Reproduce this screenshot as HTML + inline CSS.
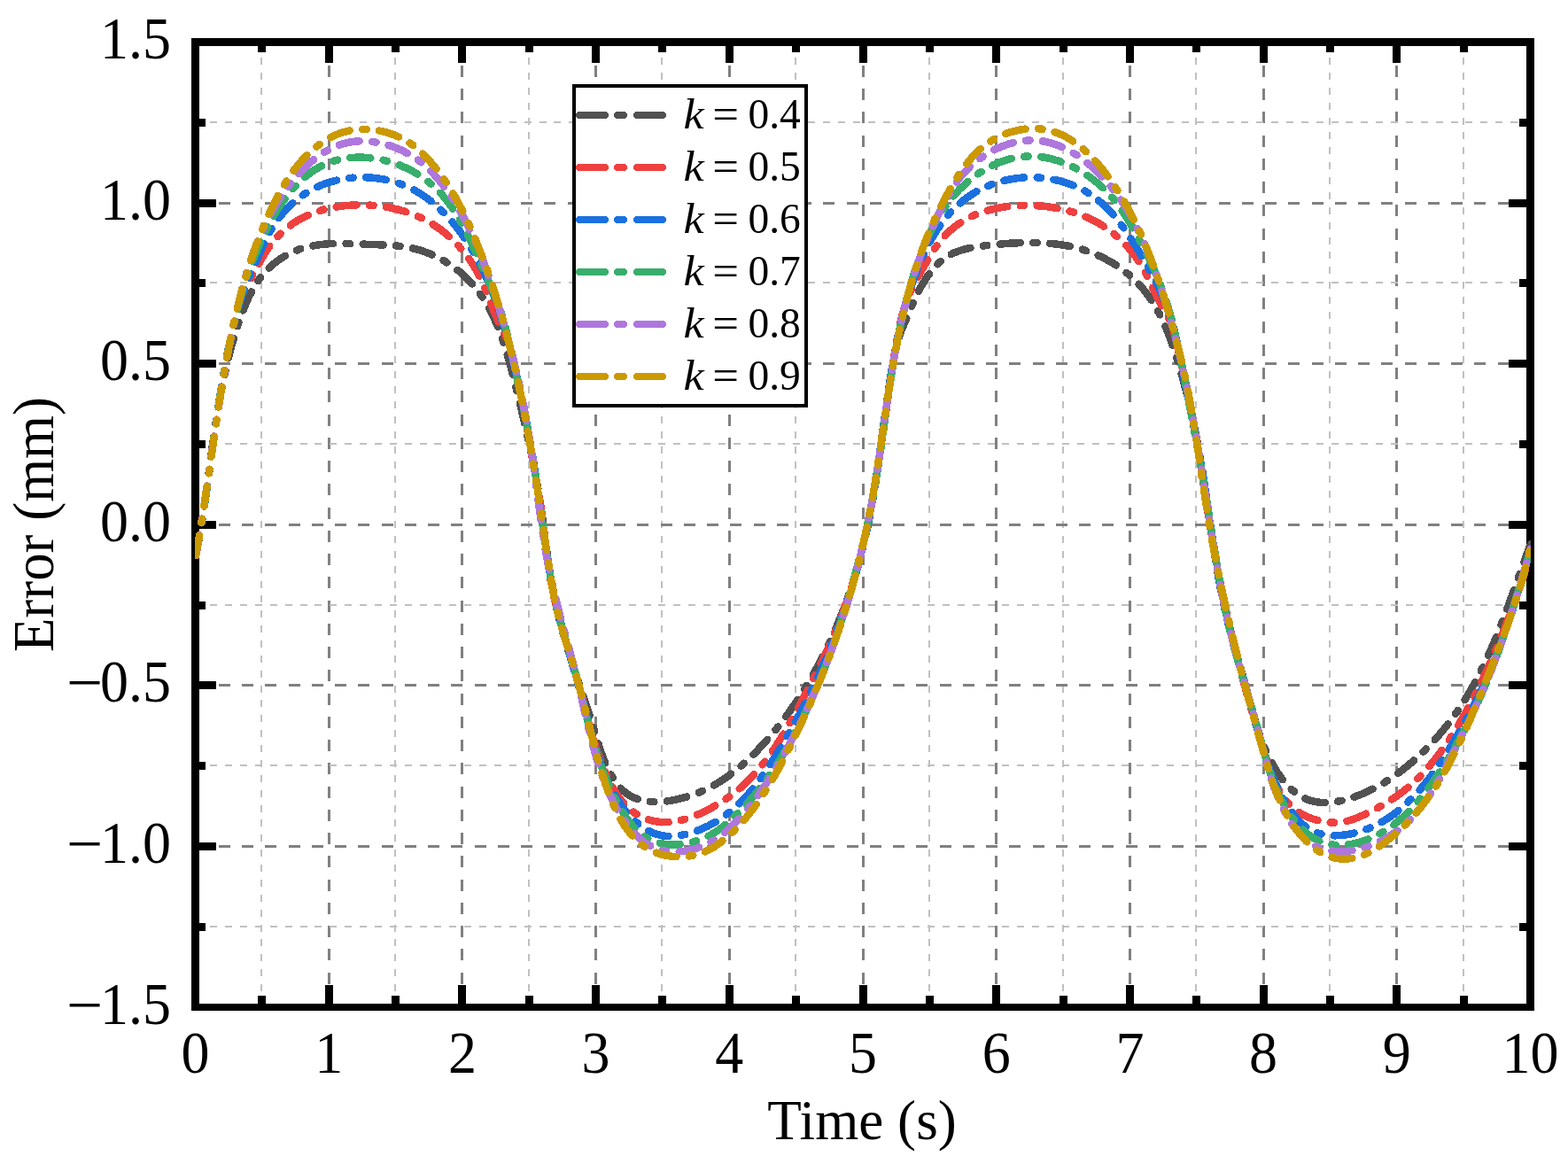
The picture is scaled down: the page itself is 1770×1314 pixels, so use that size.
<!DOCTYPE html>
<html><head><meta charset="utf-8"><title>Error vs Time</title>
<style>
html,body{margin:0;padding:0;background:#fff;}
svg{display:block;}
text{font-family:"Liberation Serif","Times New Roman",serif;fill:#000;}
#curves path{fill:none;shape-rendering:crispEdges;stroke-width:8.5;stroke-linecap:round;stroke-linejoin:round;stroke-dasharray:23 14.5 4.5 14.5;}
#legend path{fill:none;shape-rendering:crispEdges;stroke-width:8;stroke-linecap:round;stroke-dasharray:29 14 7 15;}
#legend text{font-size:47.5px;}
#labels text{font-size:64px;}
</style></head><body>
<svg width="1770" height="1314" viewBox="0 0 1770 1314">
<rect width="1770" height="1314" fill="#fff"/>
<g id="grid" shape-rendering="crispEdges">
<line x1="295.0" y1="48.2" x2="295.0" y2="1137" stroke="#c0c0c0" stroke-width="2" stroke-dasharray="8 8.87"/>
<line x1="446.0" y1="48.2" x2="446.0" y2="1137" stroke="#c0c0c0" stroke-width="2" stroke-dasharray="8 8.87"/>
<line x1="597.0" y1="48.2" x2="597.0" y2="1137" stroke="#c0c0c0" stroke-width="2" stroke-dasharray="8 8.87"/>
<line x1="747.0" y1="48.2" x2="747.0" y2="1137" stroke="#c0c0c0" stroke-width="2" stroke-dasharray="8 8.87"/>
<line x1="898.0" y1="48.2" x2="898.0" y2="1137" stroke="#c0c0c0" stroke-width="2" stroke-dasharray="8 8.87"/>
<line x1="1049.0" y1="48.2" x2="1049.0" y2="1137" stroke="#c0c0c0" stroke-width="2" stroke-dasharray="8 8.87"/>
<line x1="1200.0" y1="48.2" x2="1200.0" y2="1137" stroke="#c0c0c0" stroke-width="2" stroke-dasharray="8 8.87"/>
<line x1="1350.0" y1="48.2" x2="1350.0" y2="1137" stroke="#c0c0c0" stroke-width="2" stroke-dasharray="8 8.87"/>
<line x1="1501.0" y1="48.2" x2="1501.0" y2="1137" stroke="#c0c0c0" stroke-width="2" stroke-dasharray="8 8.87"/>
<line x1="1652.0" y1="48.2" x2="1652.0" y2="1137" stroke="#c0c0c0" stroke-width="2" stroke-dasharray="8 8.87"/>
<line x1="371.5" y1="47.5" x2="371.5" y2="1137" stroke="#808080" stroke-width="3" stroke-dasharray="13 13.25"/>
<line x1="521.5" y1="47.5" x2="521.5" y2="1137" stroke="#808080" stroke-width="3" stroke-dasharray="13 13.25"/>
<line x1="672.5" y1="47.5" x2="672.5" y2="1137" stroke="#808080" stroke-width="3" stroke-dasharray="13 13.25"/>
<line x1="823.5" y1="47.5" x2="823.5" y2="1137" stroke="#808080" stroke-width="3" stroke-dasharray="13 13.25"/>
<line x1="974.5" y1="47.5" x2="974.5" y2="1137" stroke="#808080" stroke-width="3" stroke-dasharray="13 13.25"/>
<line x1="1124.5" y1="47.5" x2="1124.5" y2="1137" stroke="#808080" stroke-width="3" stroke-dasharray="13 13.25"/>
<line x1="1275.5" y1="47.5" x2="1275.5" y2="1137" stroke="#808080" stroke-width="3" stroke-dasharray="13 13.25"/>
<line x1="1426.5" y1="47.5" x2="1426.5" y2="1137" stroke="#808080" stroke-width="3" stroke-dasharray="13 13.25"/>
<line x1="1576.5" y1="47.5" x2="1576.5" y2="1137" stroke="#808080" stroke-width="3" stroke-dasharray="13 13.25"/>
<line x1="220.5" y1="138.0" x2="1727.5" y2="138.0" stroke="#c0c0c0" stroke-width="2" stroke-dasharray="8 8.87"/>
<line x1="220.5" y1="319.0" x2="1727.5" y2="319.0" stroke="#c0c0c0" stroke-width="2" stroke-dasharray="8 8.87"/>
<line x1="220.5" y1="501.0" x2="1727.5" y2="501.0" stroke="#c0c0c0" stroke-width="2" stroke-dasharray="8 8.87"/>
<line x1="220.5" y1="683.0" x2="1727.5" y2="683.0" stroke="#c0c0c0" stroke-width="2" stroke-dasharray="8 8.87"/>
<line x1="220.5" y1="864.0" x2="1727.5" y2="864.0" stroke="#c0c0c0" stroke-width="2" stroke-dasharray="8 8.87"/>
<line x1="220.5" y1="1046.0" x2="1727.5" y2="1046.0" stroke="#c0c0c0" stroke-width="2" stroke-dasharray="8 8.87"/>
<line x1="220.5" y1="229.5" x2="1727.5" y2="229.5" stroke="#808080" stroke-width="3" stroke-dasharray="13 13.25"/>
<line x1="220.5" y1="410.5" x2="1727.5" y2="410.5" stroke="#808080" stroke-width="3" stroke-dasharray="13 13.25"/>
<line x1="220.5" y1="592.5" x2="1727.5" y2="592.5" stroke="#808080" stroke-width="3" stroke-dasharray="13 13.25"/>
<line x1="220.5" y1="773.5" x2="1727.5" y2="773.5" stroke="#808080" stroke-width="3" stroke-dasharray="13 13.25"/>
<line x1="220.5" y1="955.5" x2="1727.5" y2="955.5" stroke="#808080" stroke-width="3" stroke-dasharray="13 13.25"/>
</g>
<g id="frame" fill="#000">
<rect x="216" y="43" width="1516" height="9"/>
<rect x="216" y="1133" width="1516" height="8"/>
<rect x="216" y="43" width="9" height="1098"/>
<rect x="1723" y="43" width="9" height="1098"/>
<rect x="291.0" y="52" width="9" height="7"/>
<rect x="291.0" y="1124" width="9" height="9"/>
<rect x="367.0" y="52" width="9" height="19"/>
<rect x="367.0" y="1112" width="9" height="21"/>
<rect x="442.0" y="52" width="9" height="7"/>
<rect x="442.0" y="1124" width="9" height="9"/>
<rect x="517.0" y="52" width="9" height="19"/>
<rect x="517.0" y="1112" width="9" height="21"/>
<rect x="593.0" y="52" width="9" height="7"/>
<rect x="593.0" y="1124" width="9" height="9"/>
<rect x="668.0" y="52" width="9" height="19"/>
<rect x="668.0" y="1112" width="9" height="21"/>
<rect x="743.0" y="52" width="9" height="7"/>
<rect x="743.0" y="1124" width="9" height="9"/>
<rect x="819.0" y="52" width="9" height="19"/>
<rect x="819.0" y="1112" width="9" height="21"/>
<rect x="894.0" y="52" width="9" height="7"/>
<rect x="894.0" y="1124" width="9" height="9"/>
<rect x="970.0" y="52" width="9" height="19"/>
<rect x="970.0" y="1112" width="9" height="21"/>
<rect x="1045.0" y="52" width="9" height="7"/>
<rect x="1045.0" y="1124" width="9" height="9"/>
<rect x="1120.0" y="52" width="9" height="19"/>
<rect x="1120.0" y="1112" width="9" height="21"/>
<rect x="1196.0" y="52" width="9" height="7"/>
<rect x="1196.0" y="1124" width="9" height="9"/>
<rect x="1271.0" y="52" width="9" height="19"/>
<rect x="1271.0" y="1112" width="9" height="21"/>
<rect x="1346.0" y="52" width="9" height="7"/>
<rect x="1346.0" y="1124" width="9" height="9"/>
<rect x="1422.0" y="52" width="9" height="19"/>
<rect x="1422.0" y="1112" width="9" height="21"/>
<rect x="1497.0" y="52" width="9" height="7"/>
<rect x="1497.0" y="1124" width="9" height="9"/>
<rect x="1572.0" y="52" width="9" height="19"/>
<rect x="1572.0" y="1112" width="9" height="21"/>
<rect x="1648.0" y="52" width="9" height="7"/>
<rect x="1648.0" y="1124" width="9" height="9"/>
<rect x="225" y="134.0" width="7" height="9"/>
<rect x="1715" y="134.0" width="8" height="9"/>
<rect x="225" y="225.0" width="19" height="9"/>
<rect x="1703" y="225.0" width="20" height="9"/>
<rect x="225" y="315.0" width="7" height="9"/>
<rect x="1715" y="315.0" width="8" height="9"/>
<rect x="225" y="406.0" width="19" height="9"/>
<rect x="1703" y="406.0" width="20" height="9"/>
<rect x="225" y="497.0" width="7" height="9"/>
<rect x="1715" y="497.0" width="8" height="9"/>
<rect x="225" y="588.0" width="19" height="9"/>
<rect x="1703" y="588.0" width="20" height="9"/>
<rect x="225" y="679.0" width="7" height="9"/>
<rect x="1715" y="679.0" width="8" height="9"/>
<rect x="225" y="769.0" width="19" height="9"/>
<rect x="1703" y="769.0" width="20" height="9"/>
<rect x="225" y="860.0" width="7" height="9"/>
<rect x="1715" y="860.0" width="8" height="9"/>
<rect x="225" y="951.0" width="19" height="9"/>
<rect x="1703" y="951.0" width="20" height="9"/>
<rect x="225" y="1042.0" width="7" height="9"/>
<rect x="1715" y="1042.0" width="8" height="9"/>
</g>
<defs><clipPath id="pc"><rect x="220" y="0" width="1508" height="1314"/></clipPath></defs>
<g id="curves" clip-path="url(#pc)">
<path d="M221.0,627.2L221.6,624.3L222.2,621.3L222.8,618.4L223.3,615.4L223.9,612.5L224.4,609.5L224.9,606.6L225.4,603.6L226.0,600.6L226.5,597.7L226.9,594.7L227.4,591.8L227.9,588.8L228.4,585.8L228.8,582.9L229.3,579.9L229.7,576.9L230.2,574.0L230.6,571.0L231.0,568.0L231.5,565.0L231.9,562.1L232.3,559.1L232.7,556.1L233.1,553.2L233.5,550.2L233.9,547.2L234.3,544.2L234.7,541.3L235.1,538.3L235.5,535.3L235.9,532.3L236.3,529.4L236.7,526.4L237.1,523.4L237.5,520.4L237.9,517.5L238.3,514.5L238.7,511.5L239.1,508.5L239.5,505.6L239.9,502.6L240.4,499.6L240.8,496.6L241.2,493.7L241.6,490.7L242.0,487.7L242.5,484.8L242.9,481.8L243.4,478.8L243.8,475.8L244.3,472.9L244.8,469.9L245.2,467.0L245.7,464.0L246.2,461.0L246.7,458.1L247.2,455.1L247.7,452.2L248.2,449.2L248.8,446.2L249.3,443.3L249.9,440.3L250.5,437.4L251.0,434.5L251.6,431.5L252.2,428.6L252.8,425.6L253.5,422.7L254.1,419.8L254.8,416.8L255.4,413.9L256.1,411.0L256.8,408.1L257.5,405.1L258.3,402.2L259.0,399.3L259.8,396.4L260.5,393.5L261.3,390.6L262.1,387.7L263.0,384.9L263.8,382.0L264.7,379.1L265.5,376.2L266.4,373.4L267.4,370.5L268.3,367.6L269.2,364.8L270.2,362.0L271.2,359.1L272.2,356.3L273.2,353.5L274.3,350.7L275.4,347.9L276.5,345.1L277.7,342.3L278.9,339.6L280.1,336.9L281.4,334.1L282.8,331.5L284.2,328.8L285.6,326.2L287.1,323.6L288.7,321.0L290.3,318.5L292.0,316.0L293.8,313.6L295.6,311.2L297.6,308.9L299.6,306.7L301.6,304.5L303.8,302.4L306.0,300.3L308.2,298.4L310.6,296.5L313.0,294.7L315.4,292.9L317.9,291.3L320.5,289.7L323.1,288.2L325.7,286.8L328.4,285.5L331.1,284.2L333.9,283.0L336.7,281.9L339.5,280.9L342.4,280.0L345.3,279.2L348.2,278.5L351.1,277.8L354.0,277.3L357.0,276.8L360.0,276.3L363.0,276.0L365.9,275.7L368.9,275.4L371.9,275.2L374.9,275.1L377.9,275.0L380.9,274.9L383.9,274.9L386.9,274.9L389.9,275.0L392.9,275.0L395.9,275.1L398.9,275.2L401.9,275.3L404.9,275.4L407.9,275.5L410.9,275.7L413.9,275.8L416.9,275.9L419.9,276.0L422.9,276.1L425.9,276.2L428.9,276.3L431.9,276.4L434.9,276.6L437.9,276.7L440.9,276.9L443.9,277.2L446.9,277.4L449.9,277.8L452.9,278.1L455.8,278.5L458.8,279.0L461.8,279.5L464.7,280.1L467.6,280.8L470.5,281.5L473.4,282.3L476.3,283.2L479.1,284.2L482.0,285.2L484.8,286.3L487.5,287.5L490.3,288.7L493.0,290.0L495.6,291.4L498.3,292.8L500.9,294.3L503.5,295.8L506.0,297.4L508.5,299.1L511.0,300.8L513.4,302.5L515.8,304.4L518.2,306.2L520.5,308.2L522.7,310.1L524.9,312.2L527.1,314.3L529.2,316.4L531.2,318.6L533.3,320.8L535.2,323.1L537.1,325.4L539.0,327.8L540.8,330.2L542.5,332.6L544.2,335.1L545.9,337.6L547.5,340.1L549.0,342.7L550.5,345.3L552.0,347.9L553.4,350.6L554.8,353.2L556.1,355.9L557.4,358.6L558.7,361.4L559.9,364.1L561.1,366.9L562.2,369.6L563.3,372.4L564.4,375.2L565.4,378.0L566.5,380.9L567.4,383.7L568.4,386.5L569.4,389.4L570.3,392.3L571.2,395.1L572.0,398.0L572.9,400.9L573.7,403.8L574.5,406.6L575.3,409.5L576.1,412.4L576.9,415.3L577.7,418.2L578.4,421.1L579.2,424.0L579.9,427.0L580.6,429.9L581.4,432.8L582.1,435.7L582.8,438.6L583.5,441.5L584.2,444.4L584.9,447.4L585.6,450.3L586.4,453.2L587.1,456.1L587.8,459.0L588.5,461.9L589.2,464.9L589.9,467.8L590.6,470.7L591.2,473.6L591.9,476.5L592.6,479.5L593.3,482.4L594.0,485.3L594.6,488.2L595.3,491.2L596.0,494.1L596.6,497.0L597.2,500.0L597.9,502.9L598.5,505.8L599.1,508.8L599.8,511.7L600.4,514.6L601.0,517.6L601.6,520.5L602.2,523.5L602.8,526.4L603.3,529.4L603.9,532.3L604.4,535.3L605.0,538.2L605.5,541.2L606.1,544.1L606.6,547.1L607.1,550.0L607.6,553.0L608.1,556.0L608.5,558.9L609.0,561.9L609.5,564.9L609.9,567.8L610.3,570.8L610.8,573.8L611.2,576.7L611.6,579.7L612.0,582.7L612.4,585.7L612.8,588.6L613.2,591.6L613.6,594.6L614.0,597.6L614.3,600.5L614.7,603.5L615.1,606.5L615.5,609.5L615.9,612.4L616.3,615.4L616.7,618.4L617.1,621.4L617.5,624.4L617.9,627.3L618.3,630.3L618.7,633.3L619.1,636.2L619.6,639.2L620.0,642.2L620.5,645.1L620.9,648.1L621.4,651.1L621.9,654.0L622.4,657.0L622.9,660.0L623.5,662.9L624.0,665.9L624.6,668.8L625.2,671.7L625.8,674.7L626.4,677.6L627.0,680.6L627.7,683.5L628.4,686.4L629.0,689.3L629.8,692.3L630.5,695.2L631.2,698.1L632.0,701.0L632.7,703.9L633.5,706.8L634.3,709.7L635.1,712.6L635.9,715.5L636.7,718.3L637.6,721.2L638.4,724.1L639.3,727.0L640.2,729.9L641.0,732.7L641.9,735.6L642.8,738.5L643.7,741.3L644.6,744.2L645.5,747.0L646.4,749.9L647.4,752.8L648.3,755.6L649.2,758.5L650.2,761.3L651.1,764.2L652.0,767.0L653.0,769.9L653.9,772.7L654.9,775.6L655.8,778.4L656.8,781.3L657.7,784.1L658.7,787.0L659.6,789.8L660.6,792.7L661.5,795.5L662.5,798.4L663.4,801.2L664.3,804.1L665.3,806.9L666.2,809.8L667.1,812.6L668.0,815.5L668.9,818.3L669.8,821.2L670.7,824.1L671.6,826.9L672.5,829.8L673.4,832.7L674.2,835.6L675.1,838.4L676.0,841.3L676.9,844.2L677.8,847.0L678.8,849.9L679.8,852.7L680.8,855.5L681.9,858.3L683.1,861.1L684.3,863.8L685.5,866.6L686.8,869.3L688.2,871.9L689.6,874.6L691.2,877.1L692.8,879.7L694.5,882.2L696.2,884.6L698.1,886.9L700.1,889.2L702.2,891.3L704.4,893.4L706.7,895.3L709.2,897.0L711.7,898.5L714.4,899.9L717.2,901.1L720.0,902.2L722.8,903.0L725.8,903.7L728.7,904.3L731.7,904.7L734.7,905.0L737.7,905.2L740.7,905.2L743.7,905.1L746.7,905.0L749.7,904.7L752.6,904.4L755.6,904.0L758.6,903.5L761.5,902.9L764.5,902.3L767.4,901.6L770.3,900.9L773.2,900.1L776.1,899.2L778.9,898.3L781.8,897.3L784.6,896.3L787.4,895.2L790.2,894.1L792.9,892.9L795.6,891.6L798.4,890.3L801.0,889.0L803.7,887.6L806.3,886.2L808.9,884.7L811.5,883.1L814.0,881.5L816.6,879.9L819.0,878.2L821.5,876.5L823.9,874.7L826.3,872.9L828.7,871.1L831.1,869.2L833.4,867.3L835.7,865.4L838.0,863.4L840.2,861.4L842.4,859.4L844.6,857.4L846.8,855.3L849.0,853.2L851.1,851.1L853.2,849.0L855.3,846.8L857.3,844.6L859.4,842.4L861.4,840.2L863.4,838.0L865.4,835.7L867.4,833.5L869.4,831.2L871.3,828.9L873.2,826.6L875.1,824.3L877.0,822.0L878.9,819.6L880.8,817.3L882.6,814.9L884.4,812.5L886.2,810.1L888.0,807.7L889.8,805.3L891.5,802.8L893.3,800.4L895.0,797.9L896.7,795.5L898.4,793.0L900.1,790.5L901.7,788.0L903.4,785.5L905.0,783.0L906.6,780.4L908.2,777.9L909.8,775.3L911.3,772.7L912.9,770.2L914.4,767.6L915.9,765.0L917.4,762.4L918.8,759.8L920.3,757.1L921.7,754.5L923.2,751.9L924.6,749.2L926.0,746.6L927.4,743.9L928.7,741.2L930.1,738.5L931.4,735.8L932.7,733.1L934.0,730.4L935.3,727.7L936.6,725.0L937.8,722.3L939.1,719.5L940.3,716.8L941.5,714.1L942.7,711.3L943.9,708.5L945.0,705.8L946.2,703.0L947.3,700.2L948.4,697.4L949.5,694.6L950.6,691.8L951.7,689.0L952.8,686.2L953.8,683.4L954.8,680.6L955.8,677.8L956.9,675.0L957.8,672.1L958.8,669.3L959.8,666.4L960.7,663.6L961.7,660.7L962.6,657.9L963.5,655.0L964.4,652.2L965.3,649.3L966.1,646.4L967.0,643.5L967.8,640.6L968.6,637.8L969.5,634.9L970.2,632.0L971.0,629.1L971.8,626.2L972.6,623.3L973.3,620.4L974.0,617.5L974.8,614.5L975.5,611.6L976.2,608.7L976.9,605.8L977.5,602.9L978.2,599.9L978.8,597.0L979.5,594.1L980.1,591.1L980.7,588.2L981.3,585.2L981.9,582.3L982.4,579.4L983.0,576.4L983.6,573.5L984.1,570.5L984.6,567.5L985.1,564.6L985.7,561.6L986.2,558.7L986.6,555.7L987.1,552.7L987.6,549.8L988.1,546.8L988.5,543.9L989.0,540.9L989.4,537.9L989.9,534.9L990.3,532.0L990.8,529.0L991.2,526.0L991.6,523.1L992.0,520.1L992.4,517.1L992.8,514.1L993.3,511.2L993.7,508.2L994.1,505.2L994.5,502.2L994.9,499.3L995.3,496.3L995.7,493.3L996.0,490.3L996.4,487.4L996.8,484.4L997.2,481.4L997.6,478.4L998.0,475.5L998.4,472.5L998.8,469.5L999.2,466.5L999.6,463.6L1000.0,460.6L1000.5,457.6L1000.9,454.6L1001.3,451.7L1001.7,448.7L1002.1,445.7L1002.6,442.8L1003.0,439.8L1003.5,436.8L1003.9,433.9L1004.4,430.9L1004.8,427.9L1005.3,425.0L1005.8,422.0L1006.3,419.0L1006.8,416.1L1007.4,413.1L1007.9,410.2L1008.5,407.2L1009.1,404.3L1009.7,401.4L1010.3,398.4L1011.0,395.5L1011.7,392.6L1012.4,389.6L1013.1,386.7L1013.9,383.9L1014.8,381.0L1015.7,378.1L1016.7,375.3L1017.7,372.5L1018.9,369.7L1020.0,366.9L1021.3,364.2L1022.5,361.4L1023.6,358.7L1024.8,355.9L1026.0,353.1L1027.1,350.4L1028.3,347.6L1029.5,344.8L1030.7,342.1L1031.9,339.3L1033.1,336.6L1034.4,333.9L1035.7,331.2L1037.1,328.5L1038.5,325.9L1039.9,323.2L1041.4,320.6L1043.0,318.1L1044.6,315.5L1046.2,313.0L1048.0,310.6L1049.8,308.2L1051.6,305.8L1053.6,303.5L1055.6,301.3L1057.7,299.1L1059.8,297.0L1062.0,295.0L1064.4,293.1L1066.8,291.3L1069.3,289.7L1071.8,288.1L1074.5,286.7L1077.2,285.4L1080.0,284.3L1082.8,283.2L1085.6,282.3L1088.5,281.4L1091.4,280.7L1094.3,280.0L1097.3,279.4L1100.2,278.9L1103.2,278.4L1106.2,278.0L1109.1,277.6L1112.1,277.2L1115.1,276.9L1118.1,276.6L1121.1,276.3L1124.1,276.0L1127.1,275.7L1130.1,275.5L1133.0,275.2L1136.0,275.0L1139.0,274.8L1142.0,274.6L1145.0,274.4L1148.0,274.3L1151.0,274.1L1154.0,274.0L1157.0,274.0L1160.0,273.9L1163.0,273.9L1166.0,273.9L1169.0,273.9L1172.0,274.0L1175.0,274.1L1178.0,274.3L1181.0,274.5L1184.0,274.7L1187.0,275.0L1190.0,275.3L1193.0,275.6L1195.9,276.0L1198.9,276.5L1201.9,276.9L1204.8,277.5L1207.8,278.1L1210.7,278.7L1213.6,279.4L1216.5,280.2L1219.4,281.0L1222.3,281.8L1225.2,282.8L1228.0,283.7L1230.8,284.8L1233.6,285.8L1236.4,287.0L1239.1,288.2L1241.9,289.4L1244.6,290.7L1247.3,292.1L1249.9,293.5L1252.5,294.9L1255.1,296.4L1257.7,298.0L1260.2,299.6L1262.7,301.3L1265.2,303.0L1267.6,304.8L1270.0,306.6L1272.3,308.5L1274.7,310.4L1276.9,312.4L1279.1,314.4L1281.3,316.4L1283.4,318.6L1285.5,320.7L1287.5,323.0L1289.5,325.2L1291.4,327.5L1293.3,329.9L1295.1,332.3L1296.8,334.7L1298.6,337.2L1300.2,339.7L1301.8,342.2L1303.4,344.8L1304.9,347.4L1306.4,350.0L1307.8,352.6L1309.2,355.3L1310.6,357.9L1311.9,360.6L1313.2,363.4L1314.4,366.1L1315.6,368.8L1316.8,371.6L1317.9,374.4L1319.0,377.2L1320.1,380.0L1321.2,382.8L1322.2,385.6L1323.2,388.4L1324.2,391.3L1325.2,394.1L1326.1,397.0L1327.0,399.8L1327.9,402.7L1328.8,405.5L1329.7,408.4L1330.6,411.3L1331.4,414.2L1332.3,417.0L1333.1,419.9L1333.9,422.8L1334.7,425.7L1335.5,428.6L1336.3,431.5L1337.1,434.4L1337.8,437.3L1338.6,440.2L1339.3,443.1L1340.1,446.0L1340.8,448.9L1341.5,451.9L1342.2,454.8L1342.9,457.7L1343.6,460.6L1344.2,463.6L1344.9,466.5L1345.5,469.4L1346.2,472.3L1346.8,475.3L1347.4,478.2L1348.0,481.2L1348.6,484.1L1349.2,487.0L1349.8,490.0L1350.4,492.9L1351.0,495.9L1351.5,498.8L1352.1,501.8L1352.6,504.7L1353.2,507.7L1353.7,510.6L1354.2,513.6L1354.7,516.5L1355.2,519.5L1355.7,522.5L1356.2,525.4L1356.7,528.4L1357.2,531.4L1357.7,534.3L1358.1,537.3L1358.6,540.3L1359.0,543.2L1359.5,546.2L1359.9,549.2L1360.4,552.1L1360.8,555.1L1361.2,558.1L1361.7,561.0L1362.1,564.0L1362.5,567.0L1363.0,569.9L1363.4,572.9L1363.8,575.9L1364.2,578.9L1364.7,581.8L1365.1,584.8L1365.5,587.8L1365.9,590.7L1366.3,593.7L1366.8,596.7L1367.2,599.7L1367.6,602.6L1368.1,605.6L1368.5,608.6L1368.9,611.5L1369.4,614.5L1369.8,617.5L1370.3,620.4L1370.7,623.4L1371.2,626.4L1371.7,629.3L1372.1,632.3L1372.6,635.3L1373.1,638.2L1373.6,641.2L1374.1,644.2L1374.6,647.1L1375.1,650.1L1375.7,653.0L1376.2,656.0L1376.8,658.9L1377.3,661.9L1377.9,664.8L1378.5,667.8L1379.0,670.7L1379.6,673.7L1380.3,676.6L1380.9,679.5L1381.5,682.5L1382.2,685.4L1382.8,688.3L1383.5,691.3L1384.2,694.2L1384.9,697.1L1385.6,700.0L1386.3,702.9L1387.1,705.8L1387.8,708.7L1388.6,711.6L1389.3,714.5L1390.1,717.4L1390.9,720.3L1391.7,723.2L1392.5,726.1L1393.3,729.0L1394.1,731.9L1394.9,734.8L1395.7,737.7L1396.5,740.6L1397.3,743.5L1398.1,746.4L1398.9,749.3L1399.8,752.1L1400.6,755.0L1401.4,757.9L1402.2,760.8L1403.0,763.7L1403.8,766.6L1404.7,769.5L1405.5,772.4L1406.3,775.3L1407.1,778.2L1407.8,781.1L1408.6,784.0L1409.4,786.9L1410.2,789.7L1411.0,792.6L1411.8,795.5L1412.6,798.4L1413.3,801.3L1414.2,804.2L1415.0,807.1L1415.8,810.0L1416.7,812.9L1417.5,815.8L1418.4,818.6L1419.3,821.5L1420.2,824.3L1421.2,827.2L1422.2,830.0L1423.2,832.9L1424.2,835.7L1425.3,838.5L1426.4,841.3L1427.5,844.1L1428.7,846.8L1429.9,849.6L1431.1,852.3L1432.4,855.0L1433.8,857.7L1435.1,860.3L1436.6,863.0L1438.1,865.6L1439.6,868.2L1441.2,870.7L1442.8,873.2L1444.6,875.7L1446.3,878.1L1448.1,880.5L1450.0,882.8L1452.0,885.1L1454.0,887.3L1456.2,889.4L1458.3,891.5L1460.6,893.4L1463.0,895.3L1465.4,897.0L1467.9,898.7L1470.6,900.1L1473.3,901.5L1476.0,902.6L1478.9,903.6L1481.8,904.4L1484.7,905.0L1487.7,905.5L1490.6,905.8L1493.6,905.9L1496.6,906.0L1499.6,905.9L1502.6,905.6L1505.6,905.3L1508.6,904.9L1511.5,904.4L1514.5,903.8L1517.4,903.1L1520.3,902.3L1523.2,901.5L1526.1,900.6L1528.9,899.6L1531.7,898.6L1534.5,897.5L1537.3,896.4L1540.1,895.2L1542.8,894.0L1545.5,892.7L1548.2,891.4L1550.9,890.0L1553.6,888.6L1556.2,887.2L1558.8,885.7L1561.4,884.2L1563.9,882.6L1566.5,881.0L1569.0,879.3L1571.5,877.7L1573.9,875.9L1576.4,874.2L1578.8,872.4L1581.2,870.6L1583.6,868.8L1585.9,866.9L1588.3,865.0L1590.6,863.1L1592.9,861.2L1595.1,859.2L1597.4,857.2L1599.6,855.2L1601.8,853.2L1604.0,851.1L1606.2,849.0L1608.3,846.9L1610.4,844.8L1612.5,842.7L1614.6,840.5L1616.6,838.3L1618.7,836.1L1620.7,833.9L1622.7,831.6L1624.7,829.4L1626.6,827.1L1628.5,824.8L1630.4,822.5L1632.3,820.1L1634.2,817.8L1636.0,815.4L1637.8,813.0L1639.6,810.6L1641.4,808.2L1643.1,805.7L1644.9,803.3L1646.6,800.8L1648.2,798.3L1649.9,795.8L1651.5,793.3L1653.1,790.7L1654.7,788.2L1656.3,785.6L1657.8,783.0L1659.3,780.5L1660.8,777.9L1662.3,775.2L1663.8,772.6L1665.2,770.0L1666.6,767.3L1668.0,764.7L1669.4,762.0L1670.8,759.3L1672.1,756.7L1673.4,754.0L1674.8,751.3L1676.1,748.6L1677.3,745.8L1678.6,743.1L1679.8,740.4L1681.1,737.7L1682.3,734.9L1683.5,732.2L1684.7,729.4L1685.9,726.6L1687.0,723.9L1688.2,721.1L1689.3,718.3L1690.4,715.6L1691.6,712.8L1692.7,710.0L1693.8,707.2L1694.9,704.4L1696.0,701.6L1697.0,698.8L1698.1,696.0L1699.2,693.2L1700.2,690.4L1701.2,687.5L1702.3,684.7L1703.3,681.9L1704.4,679.1L1705.4,676.3L1706.4,673.4L1707.4,670.6L1708.4,667.8L1709.5,665.0L1710.5,662.1L1711.5,659.3L1712.5,656.5L1713.5,653.7L1714.5,650.8L1715.5,648.0L1716.5,645.2L1717.5,642.4L1718.5,639.5L1719.6,636.7L1720.6,633.9L1721.6,631.1L1722.6,628.2L1723.7,625.4L1724.7,622.6L1725.8,619.8L1726.8,617.0L1727.9,614.2" stroke="#515151"/>
<path d="M220.9,626.9L221.5,624.0L222.1,621.0L222.7,618.1L223.2,615.1L223.8,612.2L224.3,609.2L224.9,606.3L225.4,603.3L225.9,600.3L226.4,597.4L226.9,594.4L227.4,591.5L227.9,588.5L228.4,585.6L228.9,582.6L229.3,579.6L229.8,576.7L230.3,573.7L230.7,570.7L231.2,567.8L231.6,564.8L232.1,561.8L232.5,558.9L232.9,555.9L233.4,552.9L233.8,549.9L234.2,547.0L234.6,544.0L235.0,541.0L235.5,538.1L235.9,535.1L236.3,532.1L236.7,529.1L237.1,526.2L237.5,523.2L237.9,520.2L238.3,517.3L238.7,514.3L239.1,511.3L239.5,508.3L240.0,505.4L240.4,502.4L240.8,499.4L241.2,496.4L241.6,493.5L242.0,490.5L242.4,487.5L242.8,484.5L243.2,481.6L243.7,478.6L244.1,475.6L244.5,472.7L244.9,469.7L245.4,466.7L245.8,463.8L246.3,460.8L246.7,457.8L247.1,454.9L247.6,451.9L248.1,448.9L248.5,446.0L249.0,443.0L249.5,440.0L249.9,437.1L250.4,434.1L250.9,431.1L251.4,428.2L251.9,425.2L252.5,422.3L253.0,419.3L253.5,416.4L254.0,413.4L254.6,410.5L255.2,407.5L255.7,404.6L256.3,401.6L256.9,398.7L257.5,395.7L258.1,392.8L258.7,389.9L259.3,386.9L259.9,384.0L260.6,381.1L261.2,378.1L261.9,375.2L262.6,372.3L263.3,369.4L264.0,366.4L264.7,363.5L265.4,360.6L266.2,357.7L266.9,354.8L267.7,351.9L268.5,349.0L269.3,346.1L270.1,343.2L271.0,340.4L271.9,337.5L272.8,334.7L273.9,331.8L275.0,329.1L276.3,326.3L277.6,323.7L279.1,321.0L280.5,318.4L282.1,315.8L283.6,313.2L285.1,310.6L286.5,308.0L288.0,305.4L289.4,302.8L290.9,300.1L292.3,297.5L293.8,294.9L295.3,292.3L296.8,289.7L298.3,287.1L299.9,284.6L301.5,282.0L303.2,279.5L304.9,277.1L306.7,274.7L308.6,272.3L310.6,270.0L312.6,267.8L314.6,265.6L316.8,263.5L319.0,261.5L321.2,259.5L323.5,257.6L325.9,255.7L328.3,254.0L330.8,252.2L333.3,250.6L335.8,249.0L338.4,247.5L341.1,246.1L343.8,244.8L346.5,243.5L349.2,242.3L352.0,241.1L354.8,240.1L357.6,239.1L360.5,238.1L363.3,237.3L366.2,236.4L369.1,235.7L372.1,235.0L375.0,234.4L378.0,233.8L380.9,233.3L383.9,232.9L386.9,232.5L389.8,232.2L392.8,231.9L395.8,231.7L398.8,231.5L401.8,231.4L404.8,231.3L407.8,231.3L410.8,231.4L413.8,231.4L416.8,231.6L419.8,231.8L422.8,232.0L425.8,232.3L428.8,232.7L431.7,233.1L434.7,233.5L437.7,234.0L440.6,234.6L443.5,235.2L446.5,235.9L449.4,236.6L452.3,237.4L455.2,238.2L458.0,239.1L460.9,240.1L463.7,241.1L466.5,242.2L469.3,243.3L472.0,244.5L474.8,245.7L477.5,247.0L480.1,248.4L482.8,249.8L485.4,251.3L488.0,252.8L490.5,254.4L493.0,256.1L495.5,257.8L497.9,259.6L500.3,261.4L502.6,263.3L504.9,265.2L507.2,267.2L509.4,269.2L511.6,271.2L513.7,273.4L515.8,275.5L517.9,277.7L519.8,279.9L521.8,282.2L523.7,284.5L525.6,286.9L527.4,289.3L529.1,291.7L530.9,294.2L532.5,296.7L534.2,299.2L535.7,301.7L537.3,304.3L538.7,306.9L540.2,309.6L541.5,312.3L542.9,314.9L544.1,317.7L545.4,320.4L546.5,323.2L547.7,325.9L548.8,328.7L549.9,331.5L551.0,334.3L552.1,337.1L553.1,339.9L554.2,342.7L555.3,345.5L556.4,348.3L557.5,351.1L558.7,353.9L559.9,356.6L561.1,359.3L562.4,362.0L563.8,364.7L565.1,367.4L566.5,370.1L567.8,372.8L569.1,375.5L570.3,378.2L571.4,381.0L572.5,383.8L573.5,386.7L574.4,389.5L575.3,392.4L576.2,395.2L577.0,398.1L577.9,401.0L578.7,403.9L579.4,406.8L580.2,409.7L581.0,412.6L581.7,415.5L582.4,418.4L583.1,421.4L583.8,424.3L584.4,427.2L585.1,430.1L585.7,433.1L586.3,436.0L586.9,438.9L587.5,441.9L588.1,444.8L588.7,447.8L589.2,450.7L589.8,453.7L590.3,456.6L590.9,459.6L591.4,462.5L591.9,465.5L592.4,468.4L593.0,471.4L593.5,474.4L594.0,477.3L594.5,480.3L595.0,483.2L595.5,486.2L596.0,489.1L596.5,492.1L597.0,495.1L597.5,498.0L598.0,501.0L598.6,503.9L599.1,506.9L599.6,509.8L600.1,512.8L600.7,515.7L601.2,518.7L601.7,521.7L602.3,524.6L602.8,527.6L603.3,530.5L603.9,533.5L604.4,536.4L604.9,539.4L605.5,542.3L606.0,545.3L606.5,548.2L607.0,551.2L607.5,554.2L608.0,557.1L608.5,560.1L609.0,563.0L609.5,566.0L609.9,569.0L610.4,571.9L610.9,574.9L611.3,577.9L611.7,580.8L612.2,583.8L612.6,586.8L613.0,589.7L613.3,592.7L613.7,595.7L614.1,598.7L614.4,601.7L614.8,604.6L615.1,607.6L615.5,610.6L615.8,613.6L616.1,616.6L616.5,619.5L616.8,622.5L617.2,625.5L617.5,628.5L617.9,631.5L618.3,634.4L618.7,637.4L619.1,640.4L619.6,643.4L620.0,646.3L620.5,649.3L621.0,652.2L621.6,655.2L622.1,658.1L622.7,661.1L623.3,664.0L623.9,667.0L624.5,669.9L625.2,672.8L625.9,675.7L626.6,678.7L627.3,681.6L628.0,684.5L628.7,687.4L629.5,690.3L630.2,693.2L631.0,696.1L631.8,699.0L632.6,701.9L633.4,704.8L634.2,707.7L635.0,710.6L635.9,713.5L636.7,716.3L637.5,719.2L638.4,722.1L639.2,725.0L640.1,727.9L640.9,730.7L641.8,733.6L642.7,736.5L643.5,739.4L644.4,742.2L645.2,745.1L646.1,748.0L646.9,750.9L647.8,753.7L648.6,756.6L649.5,759.5L650.3,762.4L651.1,765.3L651.9,768.2L652.7,771.1L653.5,773.9L654.3,776.8L655.1,779.7L655.9,782.6L656.7,785.5L657.4,788.4L658.2,791.3L658.9,794.2L659.7,797.2L660.4,800.1L661.2,803.0L661.9,805.9L662.7,808.8L663.5,811.7L664.2,814.6L665.0,817.5L665.8,820.4L666.6,823.3L667.4,826.1L668.3,829.0L669.1,831.9L670.0,834.8L670.8,837.7L671.7,840.5L672.6,843.4L673.6,846.2L674.5,849.1L675.5,851.9L676.5,854.7L677.5,857.6L678.6,860.4L679.7,863.2L680.8,866.0L681.9,868.7L683.1,871.5L684.3,874.2L685.5,877.0L686.8,879.7L688.1,882.4L689.5,885.1L690.9,887.7L692.4,890.3L693.9,892.9L695.5,895.5L697.1,898.0L698.9,900.4L700.7,902.8L702.6,905.1L704.5,907.4L706.6,909.6L708.8,911.7L711.0,913.7L713.3,915.5L715.8,917.3L718.3,918.9L720.9,920.4L723.6,921.8L726.3,923.1L729.1,924.2L731.9,925.2L734.8,926.0L737.7,926.7L740.6,927.3L743.6,927.7L746.6,928.0L749.6,928.2L752.6,928.2L755.6,928.1L758.6,927.8L761.6,927.4L764.5,926.9L767.5,926.3L770.4,925.6L773.3,924.8L776.1,924.0L779.0,923.0L781.8,922.0L784.6,920.9L787.4,919.7L790.1,918.5L792.8,917.3L795.5,916.0L798.2,914.6L800.9,913.2L803.5,911.8L806.1,910.3L808.7,908.8L811.3,907.3L813.8,905.7L816.4,904.0L818.9,902.4L821.3,900.7L823.8,898.9L826.2,897.1L828.6,895.3L830.9,893.4L833.2,891.5L835.5,889.6L837.8,887.6L840.0,885.6L842.2,883.5L844.3,881.4L846.4,879.3L848.5,877.2L850.6,875.0L852.6,872.8L854.6,870.5L856.5,868.2L858.5,865.9L860.4,863.6L862.2,861.2L864.1,858.9L865.9,856.5L867.6,854.1L869.4,851.6L871.1,849.2L872.8,846.7L874.5,844.2L876.2,841.7L877.8,839.2L879.4,836.7L881.0,834.1L882.6,831.6L884.1,829.0L885.7,826.4L887.2,823.8L888.7,821.2L890.2,818.6L891.7,816.0L893.1,813.4L894.6,810.8L896.1,808.2L897.5,805.5L898.9,802.9L900.4,800.3L901.8,797.6L903.2,795.0L904.6,792.3L906.0,789.7L907.4,787.0L908.8,784.4L910.2,781.7L911.6,779.0L913.0,776.4L914.4,773.7L915.7,771.0L917.1,768.4L918.5,765.7L919.8,763.0L921.1,760.3L922.5,757.6L923.8,754.9L925.1,752.2L926.4,749.5L927.7,746.8L929.0,744.1L930.3,741.4L931.5,738.7L932.8,736.0L934.1,733.2L935.3,730.5L936.5,727.8L937.7,725.0L938.9,722.3L940.1,719.5L941.3,716.8L942.5,714.0L943.6,711.2L944.8,708.4L945.9,705.7L947.0,702.9L948.1,700.1L949.2,697.3L950.3,694.5L951.4,691.7L952.4,688.9L953.4,686.1L954.4,683.2L955.4,680.4L956.4,677.6L957.4,674.7L958.4,671.9L959.3,669.0L960.2,666.2L961.1,663.3L962.0,660.5L962.9,657.6L963.8,654.7L964.6,651.8L965.5,649.0L966.3,646.1L967.1,643.2L967.9,640.3L968.7,637.4L969.5,634.5L970.2,631.6L971.0,628.7L971.7,625.8L972.4,622.9L973.2,619.9L973.9,617.0L974.5,614.1L975.2,611.2L975.9,608.3L976.6,605.3L977.2,602.4L977.8,599.5L978.5,596.5L979.1,593.6L979.7,590.7L980.3,587.7L980.9,584.8L981.5,581.8L982.1,578.9L982.6,575.9L983.2,573.0L983.7,570.0L984.3,567.1L984.8,564.1L985.3,561.2L985.9,558.2L986.4,555.3L986.9,552.3L987.4,549.4L987.9,546.4L988.4,543.4L988.9,540.5L989.3,537.5L989.8,534.6L990.3,531.6L990.7,528.6L991.2,525.7L991.7,522.7L992.1,519.7L992.6,516.8L993.0,513.8L993.4,510.8L993.9,507.9L994.3,504.9L994.8,501.9L995.2,498.9L995.6,496.0L996.0,493.0L996.5,490.0L996.9,487.1L997.3,484.1L997.7,481.1L998.2,478.1L998.6,475.2L999.0,472.2L999.4,469.2L999.8,466.3L1000.3,463.3L1000.7,460.3L1001.1,457.4L1001.5,454.4L1001.9,451.4L1002.4,448.4L1002.8,445.5L1003.2,442.5L1003.7,439.5L1004.1,436.6L1004.5,433.6L1005.0,430.6L1005.4,427.7L1005.8,424.7L1006.3,421.7L1006.7,418.7L1007.2,415.8L1007.7,412.8L1008.1,409.9L1008.6,406.9L1009.1,403.9L1009.5,401.0L1010.0,398.0L1010.5,395.0L1011.0,392.1L1011.5,389.1L1012.0,386.2L1012.6,383.2L1013.1,380.3L1013.7,377.3L1014.2,374.4L1014.8,371.4L1015.5,368.5L1016.1,365.6L1016.8,362.6L1017.5,359.7L1018.3,356.8L1019.0,353.9L1019.9,351.0L1020.7,348.2L1021.6,345.3L1022.5,342.4L1023.5,339.6L1024.6,336.8L1025.6,334.0L1026.8,331.2L1028.0,328.5L1029.2,325.7L1030.5,323.0L1031.8,320.3L1033.2,317.7L1034.6,315.0L1036.1,312.4L1037.6,309.8L1039.1,307.2L1040.6,304.6L1042.1,302.0L1043.7,299.4L1045.2,296.9L1046.7,294.3L1048.2,291.7L1049.8,289.1L1051.3,286.6L1052.9,284.0L1054.6,281.5L1056.3,279.0L1058.0,276.6L1059.8,274.2L1061.7,271.8L1063.6,269.5L1065.6,267.3L1067.6,265.1L1069.8,263.0L1071.9,260.9L1074.2,258.9L1076.5,257.0L1078.9,255.1L1081.3,253.4L1083.8,251.7L1086.3,250.1L1088.9,248.5L1091.5,247.1L1094.1,245.7L1096.8,244.3L1099.6,243.1L1102.3,241.9L1105.1,240.8L1107.9,239.8L1110.8,238.8L1113.7,238.0L1116.5,237.1L1119.4,236.4L1122.4,235.7L1125.3,235.1L1128.2,234.5L1131.2,234.0L1134.2,233.5L1137.1,233.1L1140.1,232.8L1143.1,232.5L1146.1,232.3L1149.1,232.1L1152.1,232.0L1155.1,231.9L1158.1,231.9L1161.1,231.9L1164.1,232.0L1167.1,232.1L1170.1,232.2L1173.1,232.4L1176.1,232.7L1179.1,233.0L1182.1,233.3L1185.0,233.7L1188.0,234.2L1191.0,234.6L1193.9,235.2L1196.9,235.8L1199.8,236.4L1202.7,237.1L1205.6,237.9L1208.5,238.7L1211.4,239.5L1214.2,240.5L1217.1,241.4L1219.9,242.5L1222.7,243.5L1225.5,244.7L1228.2,245.9L1230.9,247.2L1233.6,248.5L1236.3,249.9L1238.9,251.3L1241.5,252.8L1244.1,254.4L1246.6,256.0L1249.1,257.7L1251.5,259.4L1253.9,261.2L1256.3,263.0L1258.6,264.9L1260.9,266.9L1263.1,268.9L1265.3,270.9L1267.5,273.0L1269.6,275.2L1271.6,277.4L1273.7,279.6L1275.6,281.9L1277.5,284.2L1279.4,286.5L1281.2,288.9L1283.0,291.4L1284.7,293.8L1286.3,296.3L1287.9,298.9L1289.5,301.4L1291.0,304.0L1292.4,306.7L1293.8,309.3L1295.2,312.0L1296.5,314.7L1297.8,317.4L1299.0,320.1L1300.3,322.9L1301.5,325.6L1302.8,328.3L1304.1,331.0L1305.4,333.7L1306.7,336.4L1308.1,339.1L1309.5,341.7L1311.0,344.3L1312.6,346.9L1314.1,349.5L1315.7,352.0L1317.2,354.6L1318.6,357.3L1320.0,359.9L1321.2,362.7L1322.3,365.5L1323.3,368.3L1324.2,371.2L1325.0,374.1L1325.7,377.0L1326.4,379.9L1327.1,382.8L1327.8,385.7L1328.5,388.6L1329.2,391.6L1329.9,394.5L1330.6,397.4L1331.3,400.3L1332.0,403.2L1332.7,406.2L1333.3,409.1L1334.0,412.0L1334.7,414.9L1335.3,417.9L1336.0,420.8L1336.6,423.7L1337.3,426.6L1337.9,429.6L1338.6,432.5L1339.2,435.4L1339.8,438.4L1340.4,441.3L1341.0,444.3L1341.6,447.2L1342.2,450.1L1342.8,453.1L1343.4,456.0L1344.0,459.0L1344.5,461.9L1345.1,464.9L1345.6,467.8L1346.2,470.8L1346.7,473.7L1347.2,476.7L1347.7,479.6L1348.3,482.6L1348.8,485.6L1349.3,488.5L1349.8,491.5L1350.3,494.4L1350.8,497.4L1351.3,500.3L1351.8,503.3L1352.3,506.3L1352.7,509.2L1353.2,512.2L1353.7,515.2L1354.2,518.1L1354.6,521.1L1355.1,524.0L1355.6,527.0L1356.0,530.0L1356.5,532.9L1357.0,535.9L1357.4,538.9L1357.9,541.8L1358.3,544.8L1358.8,547.8L1359.3,550.7L1359.7,553.7L1360.2,556.7L1360.6,559.6L1361.1,562.6L1361.6,565.6L1362.0,568.5L1362.5,571.5L1363.0,574.5L1363.4,577.4L1363.9,580.4L1364.4,583.3L1364.8,586.3L1365.3,589.3L1365.8,592.2L1366.3,595.2L1366.8,598.2L1367.3,601.1L1367.8,604.1L1368.3,607.0L1368.8,610.0L1369.3,612.9L1369.8,615.9L1370.3,618.9L1370.9,621.8L1371.4,624.8L1371.9,627.7L1372.4,630.7L1373.0,633.6L1373.5,636.6L1374.1,639.5L1374.6,642.5L1375.2,645.4L1375.7,648.4L1376.3,651.3L1376.9,654.3L1377.5,657.2L1378.0,660.2L1378.6,663.1L1379.2,666.0L1379.8,669.0L1380.4,671.9L1381.0,674.9L1381.6,677.8L1382.2,680.7L1382.8,683.7L1383.5,686.6L1384.1,689.5L1384.7,692.5L1385.4,695.4L1386.0,698.3L1386.7,701.3L1387.3,704.2L1388.0,707.1L1388.7,710.1L1389.3,713.0L1390.0,715.9L1390.7,718.8L1391.4,721.7L1392.1,724.7L1392.8,727.6L1393.5,730.5L1394.3,733.4L1395.0,736.3L1395.7,739.2L1396.4,742.1L1397.2,745.0L1397.9,747.9L1398.7,750.8L1399.5,753.8L1400.2,756.7L1401.0,759.6L1401.8,762.5L1402.6,765.3L1403.4,768.2L1404.2,771.1L1405.0,774.0L1405.8,776.9L1406.6,779.8L1407.4,782.7L1408.2,785.6L1409.0,788.5L1409.9,791.4L1410.7,794.2L1411.5,797.1L1412.4,800.0L1413.2,802.9L1414.1,805.8L1414.9,808.6L1415.8,811.5L1416.6,814.4L1417.5,817.3L1418.4,820.1L1419.2,823.0L1420.1,825.9L1421.0,828.8L1421.8,831.6L1422.7,834.5L1423.6,837.4L1424.5,840.2L1425.4,843.1L1426.2,846.0L1427.1,848.8L1428.0,851.7L1428.9,854.6L1429.8,857.4L1430.7,860.3L1431.7,863.1L1432.6,866.0L1433.6,868.8L1434.7,871.6L1435.7,874.4L1436.8,877.2L1438.0,880.0L1439.2,882.7L1440.5,885.5L1441.8,888.1L1443.2,890.8L1444.7,893.4L1446.2,896.0L1447.9,898.5L1449.6,900.9L1451.4,903.3L1453.4,905.6L1455.4,907.8L1457.5,910.0L1459.7,912.0L1462.0,913.9L1464.4,915.7L1466.9,917.4L1469.5,918.9L1472.1,920.4L1474.8,921.7L1477.6,922.9L1480.4,924.0L1483.2,924.9L1486.1,925.8L1489.0,926.5L1491.9,927.2L1494.9,927.7L1497.8,928.1L1500.8,928.4L1503.8,928.5L1506.8,928.6L1509.8,928.5L1512.8,928.2L1515.8,927.8L1518.7,927.3L1521.7,926.6L1524.6,925.7L1527.4,924.8L1530.2,923.8L1533.0,922.7L1535.8,921.5L1538.5,920.3L1541.2,919.0L1543.9,917.7L1546.6,916.4L1549.3,915.1L1552.0,913.7L1554.6,912.3L1557.3,910.8L1559.9,909.4L1562.5,907.9L1565.1,906.3L1567.6,904.8L1570.2,903.1L1572.7,901.5L1575.1,899.8L1577.6,898.1L1580.0,896.3L1582.4,894.5L1584.8,892.6L1587.1,890.8L1589.4,888.8L1591.7,886.9L1593.9,884.9L1596.1,882.9L1598.3,880.8L1600.5,878.7L1602.6,876.6L1604.7,874.5L1606.8,872.3L1608.8,870.1L1610.8,867.9L1612.8,865.6L1614.8,863.3L1616.7,861.0L1618.6,858.7L1620.5,856.4L1622.3,854.0L1624.2,851.6L1626.0,849.2L1627.7,846.8L1629.5,844.4L1631.2,841.9L1632.9,839.5L1634.6,837.0L1636.3,834.5L1637.9,832.0L1639.6,829.5L1641.2,826.9L1642.8,824.4L1644.3,821.8L1645.9,819.2L1647.4,816.7L1648.9,814.1L1650.4,811.5L1651.9,808.9L1653.4,806.3L1654.9,803.6L1656.3,801.0L1657.7,798.4L1659.2,795.7L1660.6,793.1L1662.0,790.4L1663.3,787.8L1664.7,785.1L1666.1,782.4L1667.4,779.7L1668.7,777.0L1670.1,774.3L1671.4,771.6L1672.7,768.9L1674.0,766.2L1675.2,763.5L1676.5,760.8L1677.7,758.1L1679.0,755.3L1680.2,752.6L1681.4,749.8L1682.7,747.1L1683.9,744.4L1685.1,741.6L1686.3,738.8L1687.4,736.1L1688.6,733.3L1689.8,730.6L1690.9,727.8L1692.1,725.0L1693.2,722.2L1694.3,719.5L1695.5,716.7L1696.6,713.9L1697.7,711.1L1698.8,708.3L1699.9,705.5L1701.0,702.7L1702.1,699.9L1703.1,697.1L1704.2,694.3L1705.3,691.5L1706.4,688.7L1707.4,685.9L1708.5,683.1L1709.5,680.3L1710.6,677.5L1711.6,674.7L1712.6,671.8L1713.7,669.0L1714.7,666.2L1715.6,663.4L1716.6,660.5L1717.6,657.7L1718.5,654.8L1719.4,652.0L1720.3,649.1L1721.1,646.2L1721.9,643.3L1722.7,640.4L1723.5,637.5L1724.2,634.6L1724.9,631.7L1725.5,628.7L1726.1,625.8L1726.6,622.9L1727.1,619.9" stroke="#ef4040"/>
<path d="M220.9,627.0L221.5,624.0L222.1,621.1L222.6,618.1L223.2,615.2L223.8,612.2L224.3,609.3L224.8,606.3L225.4,603.4L225.9,600.4L226.4,597.5L226.9,594.5L227.4,591.6L227.9,588.6L228.4,585.6L228.9,582.7L229.4,579.7L229.8,576.7L230.3,573.8L230.7,570.8L231.2,567.8L231.6,564.9L232.1,561.9L232.5,558.9L233.0,556.0L233.4,553.0L233.8,550.0L234.2,547.0L234.7,544.1L235.1,541.1L235.5,538.1L235.9,535.2L236.3,532.2L236.7,529.2L237.1,526.2L237.5,523.3L237.9,520.3L238.3,517.3L238.7,514.3L239.1,511.4L239.6,508.4L240.0,505.4L240.4,502.4L240.8,499.5L241.2,496.5L241.6,493.5L242.0,490.5L242.4,487.6L242.8,484.6L243.2,481.6L243.6,478.6L244.1,475.7L244.5,472.7L244.9,469.7L245.3,466.8L245.8,463.8L246.2,460.8L246.7,457.8L247.1,454.9L247.6,451.9L248.0,448.9L248.5,446.0L248.9,443.0L249.4,440.0L249.9,437.1L250.4,434.1L250.9,431.2L251.4,428.2L251.9,425.2L252.4,422.3L252.9,419.3L253.5,416.4L254.0,413.4L254.5,410.5L255.1,407.5L255.7,404.6L256.2,401.6L256.8,398.7L257.4,395.7L258.0,392.8L258.6,389.9L259.3,386.9L259.9,384.0L260.5,381.1L261.2,378.1L261.9,375.2L262.6,372.3L263.3,369.4L264.0,366.4L264.7,363.5L265.4,360.6L266.2,357.7L266.9,354.8L267.7,351.9L268.5,349.0L269.3,346.1L270.1,343.2L270.9,340.3L271.8,337.5L272.7,334.6L273.6,331.7L274.6,328.9L275.6,326.1L276.6,323.3L277.7,320.5L278.8,317.7L280.0,314.9L281.2,312.2L282.5,309.5L283.8,306.8L285.2,304.1L286.5,301.4L287.8,298.7L289.0,295.9L290.2,293.2L291.4,290.4L292.6,287.7L293.7,284.9L294.9,282.1L296.0,279.4L297.2,276.6L298.4,273.8L299.7,271.1L301.0,268.4L302.3,265.7L303.7,263.1L305.2,260.5L306.7,257.9L308.3,255.3L309.9,252.8L311.7,250.3L313.4,247.9L315.2,245.5L317.1,243.2L319.0,240.9L321.0,238.6L323.0,236.4L325.1,234.3L327.3,232.1L329.5,230.1L331.7,228.1L334.0,226.2L336.3,224.3L338.7,222.5L341.2,220.7L343.7,219.0L346.2,217.4L348.8,215.9L351.4,214.4L354.0,213.0L356.7,211.6L359.4,210.4L362.2,209.2L365.0,208.1L367.8,207.0L370.6,206.1L373.5,205.2L376.4,204.4L379.3,203.7L382.2,203.0L385.2,202.4L388.1,201.9L391.1,201.4L394.1,201.1L397.1,200.8L400.1,200.5L403.1,200.3L406.1,200.2L409.1,200.2L412.1,200.3L415.1,200.4L418.1,200.5L421.0,200.8L424.0,201.1L427.0,201.5L430.0,201.9L432.9,202.4L435.9,203.0L438.8,203.7L441.7,204.4L444.6,205.2L447.5,206.1L450.3,207.0L453.2,208.1L456.0,209.1L458.7,210.3L461.5,211.5L464.2,212.8L466.8,214.2L469.5,215.7L472.1,217.2L474.6,218.7L477.1,220.4L479.6,222.0L482.1,223.8L484.5,225.6L486.9,227.4L489.2,229.3L491.5,231.2L493.7,233.2L496.0,235.2L498.1,237.3L500.3,239.4L502.4,241.5L504.5,243.7L506.5,245.9L508.5,248.1L510.5,250.4L512.4,252.7L514.3,255.0L516.2,257.4L518.0,259.8L519.8,262.2L521.5,264.6L523.3,267.1L525.0,269.5L526.6,272.0L528.3,274.5L529.9,277.1L531.5,279.6L533.0,282.2L534.5,284.8L536.0,287.4L537.5,290.0L538.9,292.7L540.3,295.3L541.7,298.0L543.1,300.7L544.4,303.3L545.7,306.1L547.0,308.8L548.2,311.5L549.5,314.2L550.7,317.0L551.8,319.7L553.0,322.5L554.1,325.3L555.2,328.1L556.3,330.9L557.4,333.7L558.5,336.5L559.5,339.3L560.5,342.1L561.5,345.0L562.5,347.8L563.4,350.7L564.4,353.5L565.3,356.4L566.2,359.2L567.1,362.1L567.9,365.0L568.8,367.8L569.6,370.7L570.5,373.6L571.3,376.5L572.1,379.4L572.9,382.3L573.7,385.2L574.4,388.1L575.2,391.0L575.9,393.9L576.7,396.8L577.4,399.7L578.1,402.6L578.8,405.6L579.5,408.5L580.2,411.4L580.9,414.3L581.6,417.2L582.3,420.2L583.0,423.1L583.7,426.0L584.3,428.9L585.0,431.9L585.6,434.8L586.3,437.7L586.9,440.7L587.6,443.6L588.2,446.5L588.8,449.5L589.4,452.4L590.0,455.3L590.7,458.3L591.3,461.2L591.8,464.2L592.4,467.1L593.0,470.1L593.6,473.0L594.2,475.9L594.7,478.9L595.3,481.8L595.9,484.8L596.4,487.7L596.9,490.7L597.5,493.6L598.0,496.6L598.5,499.6L599.0,502.5L599.6,505.5L600.1,508.4L600.6,511.4L601.1,514.4L601.5,517.3L602.0,520.3L602.5,523.2L603.0,526.2L603.4,529.2L603.9,532.1L604.3,535.1L604.8,538.1L605.2,541.0L605.7,544.0L606.1,547.0L606.5,550.0L606.9,552.9L607.3,555.9L607.8,558.9L608.2,561.9L608.6,564.8L609.0,567.8L609.4,570.8L609.8,573.7L610.2,576.7L610.6,579.7L611.0,582.7L611.4,585.6L611.8,588.6L612.3,591.6L612.7,594.6L613.1,597.5L613.5,600.5L613.9,603.5L614.4,606.5L614.8,609.4L615.2,612.4L615.7,615.4L616.1,618.3L616.6,621.3L617.0,624.3L617.5,627.2L618.0,630.2L618.4,633.2L618.9,636.1L619.4,639.1L619.9,642.0L620.5,645.0L621.0,648.0L621.5,650.9L622.1,653.9L622.6,656.8L623.2,659.8L623.8,662.7L624.4,665.6L625.0,668.6L625.6,671.5L626.2,674.4L626.9,677.4L627.6,680.3L628.2,683.2L628.9,686.2L629.6,689.1L630.3,692.0L631.1,694.9L631.8,697.8L632.5,700.7L633.3,703.6L634.0,706.5L634.8,709.4L635.6,712.3L636.4,715.2L637.2,718.1L638.0,721.0L638.8,723.9L639.6,726.8L640.4,729.7L641.2,732.6L642.0,735.5L642.8,738.4L643.7,741.2L644.5,744.1L645.3,747.0L646.2,749.9L647.0,752.8L647.8,755.7L648.7,758.5L649.5,761.4L650.3,764.3L651.2,767.2L652.0,770.1L652.8,773.0L653.6,775.9L654.5,778.7L655.3,781.6L656.1,784.5L656.9,787.4L657.7,790.3L658.5,793.2L659.3,796.1L660.0,799.0L660.8,801.9L661.6,804.8L662.3,807.7L663.1,810.6L663.8,813.5L664.6,816.4L665.4,819.3L666.1,822.2L666.9,825.1L667.7,828.0L668.4,830.9L669.2,833.8L670.0,836.7L670.9,839.6L671.7,842.5L672.5,845.4L673.4,848.2L674.3,851.1L675.2,854.0L676.2,856.8L677.1,859.7L678.1,862.5L679.2,865.3L680.2,868.1L681.3,870.9L682.4,873.7L683.6,876.5L684.8,879.2L686.0,882.0L687.3,884.7L688.6,887.4L690.0,890.1L691.4,892.7L692.8,895.3L694.3,898.0L695.8,900.5L697.4,903.1L699.0,905.6L700.7,908.1L702.4,910.6L704.2,913.0L706.1,915.3L708.0,917.7L709.9,920.0L711.9,922.2L714.0,924.3L716.2,926.4L718.4,928.4L720.7,930.4L723.1,932.2L725.5,934.0L728.0,935.6L730.6,937.1L733.3,938.5L736.0,939.8L738.8,940.9L741.6,941.8L744.5,942.6L747.5,943.2L750.4,943.7L753.4,943.9L756.4,944.0L759.4,943.9L762.4,943.7L765.4,943.4L768.4,943.0L771.3,942.4L774.2,941.8L777.2,941.0L780.0,940.2L782.9,939.3L785.7,938.3L788.5,937.2L791.3,936.1L794.1,934.9L796.8,933.6L799.5,932.3L802.1,930.9L804.8,929.5L807.4,928.0L809.9,926.4L812.5,924.8L815.0,923.1L817.4,921.4L819.8,919.6L822.2,917.8L824.6,915.9L826.9,914.0L829.2,912.0L831.4,910.0L833.6,908.0L835.7,905.9L837.9,903.8L839.9,901.6L842.0,899.4L844.0,897.2L846.0,894.9L847.9,892.6L849.8,890.3L851.7,888.0L853.5,885.6L855.4,883.2L857.2,880.8L858.9,878.4L860.7,875.9L862.4,873.5L864.1,871.0L865.7,868.5L867.4,866.0L869.0,863.5L870.7,861.0L872.3,858.4L873.9,855.9L875.4,853.3L877.0,850.8L878.6,848.2L880.1,845.6L881.7,843.1L883.2,840.5L884.7,837.9L886.3,835.3L887.8,832.7L889.3,830.1L890.7,827.5L892.2,824.9L893.7,822.3L895.2,819.7L896.6,817.0L898.0,814.4L899.5,811.8L900.9,809.1L902.3,806.5L903.7,803.8L905.1,801.1L906.5,798.5L907.8,795.8L909.2,793.1L910.6,790.5L911.9,787.8L913.2,785.1L914.6,782.4L915.9,779.7L917.2,777.0L918.5,774.3L919.7,771.6L921.0,768.8L922.3,766.1L923.5,763.4L924.8,760.7L926.0,757.9L927.2,755.2L928.4,752.4L929.6,749.7L930.8,746.9L932.0,744.2L933.2,741.4L934.4,738.6L935.5,735.9L936.7,733.1L937.8,730.3L938.9,727.5L940.0,724.7L941.1,721.9L942.2,719.1L943.3,716.3L944.4,713.5L945.4,710.7L946.5,707.9L947.5,705.1L948.5,702.3L949.5,699.4L950.6,696.6L951.6,693.8L952.5,691.0L953.5,688.1L954.5,685.3L955.4,682.4L956.4,679.6L957.3,676.7L958.2,673.9L959.1,671.0L960.0,668.1L960.9,665.3L961.8,662.4L962.7,659.5L963.5,656.7L964.4,653.8L965.2,650.9L966.0,648.0L966.9,645.1L967.7,642.2L968.5,639.3L969.2,636.4L970.0,633.5L970.8,630.6L971.5,627.7L972.3,624.8L973.0,621.9L973.7,619.0L974.4,616.1L975.1,613.1L975.8,610.2L976.4,607.3L977.1,604.4L977.8,601.4L978.4,598.5L979.0,595.6L979.6,592.6L980.2,589.7L980.8,586.7L981.4,583.8L982.0,580.8L982.5,577.9L983.1,574.9L983.6,572.0L984.2,569.0L984.7,566.1L985.2,563.1L985.7,560.2L986.2,557.2L986.7,554.2L987.2,551.3L987.6,548.3L988.1,545.4L988.6,542.4L989.0,539.4L989.5,536.5L989.9,533.5L990.3,530.5L990.8,527.5L991.2,524.6L991.6,521.6L992.1,518.6L992.5,515.7L992.9,512.7L993.3,509.7L993.7,506.7L994.1,503.8L994.5,500.8L994.9,497.8L995.3,494.8L995.7,491.9L996.1,488.9L996.6,485.9L997.0,482.9L997.4,480.0L997.8,477.0L998.2,474.0L998.6,471.0L999.0,468.1L999.4,465.1L999.8,462.1L1000.2,459.2L1000.7,456.2L1001.1,453.2L1001.5,450.2L1001.9,447.3L1002.4,444.3L1002.8,441.3L1003.3,438.4L1003.7,435.4L1004.2,432.4L1004.6,429.5L1005.1,426.5L1005.6,423.5L1006.1,420.6L1006.6,417.6L1007.1,414.6L1007.6,411.7L1008.1,408.7L1008.6,405.8L1009.2,402.8L1009.7,399.9L1010.3,396.9L1010.8,394.0L1011.4,391.0L1012.0,388.1L1012.6,385.1L1013.2,382.2L1013.8,379.3L1014.5,376.3L1015.1,373.4L1015.8,370.5L1016.5,367.6L1017.2,364.6L1017.9,361.7L1018.6,358.8L1019.3,355.9L1020.1,353.0L1020.8,350.1L1021.6,347.2L1022.4,344.3L1023.2,341.4L1024.0,338.5L1024.9,335.6L1025.7,332.7L1026.6,329.9L1027.5,327.0L1028.4,324.2L1029.4,321.3L1030.3,318.5L1031.3,315.6L1032.3,312.8L1033.3,310.0L1034.3,307.1L1035.4,304.3L1036.5,301.5L1037.6,298.7L1038.7,296.0L1039.9,293.2L1041.1,290.5L1042.3,287.7L1043.6,285.0L1044.9,282.3L1046.2,279.6L1047.6,276.9L1049.0,274.3L1050.5,271.6L1051.9,269.0L1053.5,266.4L1055.0,263.9L1056.6,261.3L1058.2,258.8L1059.9,256.3L1061.6,253.9L1063.4,251.4L1065.2,249.0L1067.0,246.7L1068.9,244.3L1070.9,242.1L1072.9,239.8L1074.9,237.6L1077.1,235.5L1079.2,233.4L1081.4,231.4L1083.7,229.4L1086.0,227.5L1088.3,225.6L1090.7,223.8L1093.2,222.1L1095.7,220.4L1098.2,218.7L1100.7,217.2L1103.3,215.7L1106.0,214.3L1108.7,212.9L1111.4,211.6L1114.1,210.4L1116.9,209.2L1119.7,208.1L1122.5,207.1L1125.3,206.1L1128.2,205.3L1131.1,204.5L1134.0,203.7L1136.9,203.1L1139.9,202.5L1142.8,202.0L1145.8,201.5L1148.8,201.1L1151.8,200.8L1154.8,200.6L1157.8,200.4L1160.8,200.3L1163.8,200.3L1166.8,200.3L1169.8,200.4L1172.8,200.6L1175.8,200.8L1178.7,201.1L1181.7,201.5L1184.7,201.9L1187.7,202.4L1190.6,203.0L1193.5,203.6L1196.5,204.3L1199.3,205.1L1202.2,206.0L1205.1,206.9L1207.9,207.9L1210.7,209.0L1213.5,210.1L1216.2,211.3L1219.0,212.6L1221.6,214.0L1224.3,215.4L1226.9,216.9L1229.4,218.5L1231.9,220.2L1234.4,221.9L1236.8,223.7L1239.1,225.5L1241.4,227.5L1243.7,229.4L1245.9,231.4L1248.1,233.5L1250.2,235.6L1252.3,237.8L1254.4,240.0L1256.4,242.2L1258.3,244.5L1260.2,246.8L1262.1,249.1L1264.0,251.5L1265.8,253.9L1267.6,256.3L1269.4,258.7L1271.1,261.2L1272.8,263.6L1274.5,266.1L1276.1,268.6L1277.8,271.2L1279.4,273.7L1281.0,276.2L1282.6,278.8L1284.1,281.3L1285.7,283.9L1287.2,286.5L1288.8,289.1L1290.3,291.6L1291.8,294.2L1293.3,296.8L1294.8,299.4L1296.3,302.1L1297.7,304.7L1299.2,307.3L1300.6,310.0L1302.0,312.6L1303.4,315.3L1304.7,318.0L1306.1,320.6L1307.4,323.3L1308.7,326.0L1310.0,328.8L1311.2,331.5L1312.4,334.2L1313.6,337.0L1314.7,339.8L1315.9,342.6L1317.0,345.4L1318.0,348.2L1319.0,351.0L1320.0,353.8L1321.0,356.7L1321.9,359.5L1322.7,362.4L1323.6,365.3L1324.3,368.2L1325.1,371.1L1325.8,374.0L1326.5,376.9L1327.2,379.9L1327.8,382.8L1328.5,385.7L1329.1,388.7L1329.7,391.6L1330.3,394.5L1330.8,397.5L1331.4,400.4L1332.0,403.4L1332.5,406.3L1333.1,409.3L1333.6,412.2L1334.2,415.2L1334.8,418.1L1335.4,421.1L1335.9,424.0L1336.5,427.0L1337.1,429.9L1337.7,432.9L1338.3,435.8L1338.9,438.7L1339.5,441.7L1340.1,444.6L1340.7,447.6L1341.3,450.5L1341.9,453.4L1342.5,456.4L1343.1,459.3L1343.7,462.3L1344.3,465.2L1344.9,468.2L1345.5,471.1L1346.1,474.0L1346.7,477.0L1347.3,479.9L1347.9,482.9L1348.5,485.8L1349.1,488.7L1349.7,491.7L1350.3,494.6L1350.8,497.6L1351.4,500.5L1352.0,503.5L1352.5,506.4L1353.1,509.4L1353.7,512.3L1354.2,515.3L1354.7,518.2L1355.3,521.2L1355.8,524.1L1356.3,527.1L1356.8,530.0L1357.3,533.0L1357.8,536.0L1358.3,538.9L1358.8,541.9L1359.3,544.9L1359.7,547.8L1360.2,550.8L1360.7,553.8L1361.1,556.7L1361.6,559.7L1362.0,562.7L1362.5,565.6L1362.9,568.6L1363.3,571.6L1363.8,574.5L1364.2,577.5L1364.6,580.5L1365.1,583.5L1365.5,586.4L1365.9,589.4L1366.3,592.4L1366.8,595.3L1367.2,598.3L1367.6,601.3L1368.1,604.2L1368.5,607.2L1368.9,610.2L1369.4,613.2L1369.8,616.1L1370.3,619.1L1370.7,622.1L1371.2,625.0L1371.6,628.0L1372.1,631.0L1372.6,633.9L1373.1,636.9L1373.5,639.9L1374.0,642.8L1374.5,645.8L1375.0,648.7L1375.6,651.7L1376.1,654.6L1376.6,657.6L1377.2,660.6L1377.7,663.5L1378.3,666.5L1378.8,669.4L1379.4,672.3L1380.0,675.3L1380.6,678.2L1381.2,681.2L1381.9,684.1L1382.5,687.0L1383.2,690.0L1383.8,692.9L1384.5,695.8L1385.2,698.7L1385.9,701.6L1386.6,704.6L1387.4,707.5L1388.1,710.4L1388.9,713.3L1389.6,716.2L1390.4,719.1L1391.2,722.0L1392.0,724.9L1392.7,727.8L1393.5,730.7L1394.3,733.6L1395.1,736.5L1396.0,739.4L1396.8,742.2L1397.6,745.1L1398.4,748.0L1399.2,750.9L1400.1,753.8L1400.9,756.7L1401.7,759.6L1402.6,762.4L1403.4,765.3L1404.2,768.2L1405.0,771.1L1405.9,774.0L1406.7,776.9L1407.5,779.8L1408.3,782.7L1409.1,785.5L1410.0,788.4L1410.8,791.3L1411.6,794.2L1412.4,797.1L1413.1,800.0L1413.9,802.9L1414.7,805.8L1415.5,808.7L1416.2,811.6L1417.0,814.5L1417.8,817.4L1418.6,820.3L1419.3,823.2L1420.1,826.1L1420.9,829.0L1421.7,831.9L1422.5,834.8L1423.3,837.7L1424.1,840.6L1425.0,843.5L1425.8,846.3L1426.7,849.2L1427.6,852.1L1428.5,854.9L1429.5,857.8L1430.4,860.6L1431.4,863.5L1432.4,866.3L1433.5,869.1L1434.5,871.9L1435.6,874.7L1436.8,877.5L1437.9,880.2L1439.1,883.0L1440.4,885.7L1441.6,888.4L1442.9,891.2L1444.3,893.8L1445.7,896.5L1447.1,899.1L1448.6,901.8L1450.1,904.4L1451.6,906.9L1453.2,909.5L1454.9,912.0L1456.5,914.5L1458.3,916.9L1460.1,919.3L1461.9,921.7L1463.9,924.0L1465.9,926.2L1468.0,928.3L1470.2,930.4L1472.5,932.3L1474.9,934.1L1477.4,935.8L1480.0,937.3L1482.7,938.6L1485.4,939.7L1488.3,940.7L1491.2,941.5L1494.1,942.2L1497.1,942.6L1500.1,943.0L1503.1,943.2L1506.1,943.3L1509.1,943.2L1512.1,943.1L1515.0,942.8L1518.0,942.5L1521.0,942.1L1523.9,941.5L1526.9,940.9L1529.8,940.2L1532.7,939.4L1535.6,938.6L1538.4,937.6L1541.3,936.6L1544.1,935.5L1546.8,934.4L1549.6,933.2L1552.3,931.9L1555.0,930.5L1557.6,929.1L1560.2,927.6L1562.8,926.1L1565.4,924.5L1567.9,922.9L1570.3,921.2L1572.8,919.4L1575.2,917.6L1577.6,915.8L1579.9,913.9L1582.2,912.0L1584.5,910.0L1586.7,908.0L1588.9,906.0L1591.1,903.9L1593.2,901.8L1595.3,899.6L1597.4,897.5L1599.4,895.3L1601.5,893.1L1603.4,890.8L1605.4,888.5L1607.3,886.2L1609.2,883.9L1611.1,881.6L1613.0,879.2L1614.8,876.8L1616.6,874.4L1618.3,872.0L1620.1,869.6L1621.8,867.1L1623.5,864.6L1625.2,862.1L1626.9,859.6L1628.5,857.1L1630.2,854.6L1631.8,852.1L1633.4,849.5L1635.0,847.0L1636.5,844.4L1638.1,841.9L1639.6,839.3L1641.2,836.7L1642.7,834.1L1644.2,831.5L1645.7,828.9L1647.2,826.3L1648.7,823.7L1650.2,821.1L1651.6,818.5L1653.1,815.9L1654.6,813.3L1656.0,810.6L1657.5,808.0L1658.9,805.4L1660.3,802.7L1661.8,800.1L1663.2,797.4L1664.6,794.8L1665.9,792.1L1667.3,789.4L1668.7,786.8L1670.0,784.1L1671.3,781.4L1672.6,778.7L1673.9,776.0L1675.2,773.3L1676.5,770.5L1677.7,767.8L1679.0,765.1L1680.2,762.3L1681.4,759.6L1682.6,756.8L1683.7,754.0L1684.9,751.3L1686.0,748.5L1687.1,745.7L1688.3,742.9L1689.4,740.1L1690.4,737.3L1691.5,734.5L1692.6,731.7L1693.6,728.9L1694.7,726.1L1695.7,723.3L1696.7,720.4L1697.7,717.6L1698.7,714.8L1699.7,711.9L1700.6,709.1L1701.6,706.3L1702.5,703.4L1703.5,700.6L1704.4,697.7L1705.4,694.8L1706.3,692.0L1707.2,689.1L1708.1,686.3L1709.0,683.4L1709.9,680.5L1710.8,677.7L1711.6,674.8L1712.5,671.9L1713.4,669.1L1714.2,666.2L1715.1,663.3L1716.0,660.4L1716.8,657.5L1717.7,654.7L1718.5,651.8L1719.3,648.9L1720.2,646.0L1721.0,643.1L1721.8,640.3L1722.7,637.4L1723.5,634.5L1724.3,631.6L1725.2,628.7L1726.0,625.8L1726.8,622.9L1727.7,620.1" stroke="#1b70e0"/>
<path d="M221.0,627.1L221.5,624.1L222.1,621.2L222.7,618.2L223.2,615.3L223.7,612.3L224.3,609.4L224.8,606.4L225.3,603.5L225.8,600.5L226.3,597.6L226.8,594.6L227.3,591.6L227.8,588.7L228.3,585.7L228.7,582.8L229.2,579.8L229.7,576.8L230.1,573.9L230.6,570.9L231.0,567.9L231.5,565.0L231.9,562.0L232.4,559.0L232.8,556.1L233.2,553.1L233.7,550.1L234.1,547.1L234.5,544.2L235.0,541.2L235.4,538.2L235.8,535.3L236.2,532.3L236.6,529.3L237.1,526.3L237.5,523.4L237.9,520.4L238.3,517.4L238.7,514.5L239.1,511.5L239.5,508.5L240.0,505.5L240.4,502.6L240.8,499.6L241.2,496.6L241.6,493.7L242.0,490.7L242.5,487.7L242.9,484.7L243.3,481.8L243.7,478.8L244.2,475.8L244.6,472.9L245.0,469.9L245.5,466.9L245.9,464.0L246.3,461.0L246.8,458.0L247.2,455.1L247.7,452.1L248.2,449.1L248.6,446.2L249.1,443.2L249.6,440.2L250.1,437.3L250.5,434.3L251.0,431.3L251.5,428.4L252.0,425.4L252.5,422.5L253.1,419.5L253.6,416.6L254.1,413.6L254.6,410.7L255.2,407.7L255.7,404.8L256.3,401.8L256.9,398.9L257.4,395.9L258.0,393.0L258.6,390.0L259.2,387.1L259.8,384.2L260.4,381.2L261.1,378.3L261.7,375.3L262.4,372.4L263.0,369.5L263.7,366.6L264.4,363.6L265.0,360.7L265.7,357.8L266.5,354.9L267.2,352.0L267.9,349.1L268.6,346.2L269.4,343.3L270.2,340.4L271.0,337.5L271.7,334.6L272.6,331.7L273.4,328.8L274.2,325.9L275.1,323.0L276.0,320.2L276.9,317.3L277.9,314.5L278.8,311.6L279.8,308.8L280.8,306.0L281.8,303.1L282.9,300.3L284.0,297.5L285.1,294.8L286.2,292.0L287.4,289.2L288.6,286.4L289.7,283.7L290.9,280.9L292.1,278.2L293.3,275.4L294.5,272.6L295.7,269.9L296.9,267.2L298.2,264.4L299.5,261.7L300.8,259.0L302.1,256.3L303.5,253.7L304.9,251.0L306.3,248.4L307.8,245.8L309.3,243.2L310.8,240.6L312.4,238.0L314.0,235.5L315.6,233.0L317.3,230.5L319.0,228.0L320.7,225.6L322.5,223.2L324.3,220.8L326.2,218.4L328.1,216.1L330.1,213.8L332.1,211.6L334.1,209.4L336.2,207.2L338.3,205.1L340.5,203.1L342.8,201.1L345.0,199.1L347.4,197.3L349.8,195.5L352.2,193.7L354.7,192.0L357.3,190.5L359.9,189.0L362.5,187.5L365.2,186.2L367.9,185.0L370.7,183.9L373.5,182.9L376.4,181.9L379.3,181.1L382.2,180.3L385.1,179.7L388.1,179.1L391.0,178.7L394.0,178.3L397.0,178.0L400.0,177.8L403.0,177.7L406.0,177.6L409.0,177.7L412.0,177.8L415.0,178.0L418.0,178.3L420.9,178.6L423.9,179.0L426.9,179.5L429.8,180.1L432.8,180.7L435.7,181.5L438.6,182.2L441.4,183.1L444.3,184.0L447.1,185.0L450.0,186.0L452.7,187.1L455.5,188.3L458.2,189.5L460.9,190.8L463.6,192.2L466.3,193.6L468.9,195.1L471.4,196.6L474.0,198.2L476.5,199.9L478.9,201.6L481.4,203.4L483.7,205.2L486.0,207.1L488.3,209.1L490.5,211.1L492.7,213.2L494.8,215.3L496.9,217.5L498.9,219.7L500.8,222.0L502.8,224.3L504.6,226.7L506.4,229.1L508.2,231.5L509.9,233.9L511.6,236.4L513.3,238.9L514.9,241.5L516.4,244.0L518.0,246.6L519.5,249.2L521.0,251.8L522.4,254.4L523.8,257.1L525.2,259.8L526.5,262.4L527.9,265.1L529.2,267.8L530.5,270.5L531.8,273.2L533.0,276.0L534.3,278.7L535.5,281.4L536.8,284.1L538.0,286.9L539.2,289.6L540.4,292.4L541.6,295.1L542.9,297.9L544.1,300.6L545.3,303.4L546.5,306.1L547.7,308.8L549.0,311.6L550.2,314.3L551.4,317.1L552.6,319.8L553.8,322.6L555.0,325.3L556.2,328.1L557.3,330.8L558.5,333.6L559.6,336.4L560.7,339.2L561.8,342.0L562.8,344.8L563.8,347.6L564.8,350.5L565.8,353.3L566.7,356.2L567.5,359.0L568.4,361.9L569.2,364.8L570.0,367.7L570.7,370.6L571.4,373.5L572.2,376.4L572.9,379.4L573.5,382.3L574.2,385.2L574.9,388.1L575.5,391.1L576.2,394.0L576.8,396.9L577.5,399.8L578.1,402.8L578.8,405.7L579.5,408.6L580.1,411.6L580.8,414.5L581.4,417.4L582.1,420.3L582.7,423.3L583.4,426.2L584.1,429.1L584.7,432.1L585.4,435.0L586.0,437.9L586.7,440.8L587.3,443.8L587.9,446.7L588.6,449.6L589.2,452.6L589.8,455.5L590.4,458.4L591.1,461.4L591.7,464.3L592.3,467.3L592.9,470.2L593.5,473.1L594.1,476.1L594.6,479.0L595.2,482.0L595.8,484.9L596.3,487.9L596.9,490.8L597.4,493.8L597.9,496.7L598.5,499.7L599.0,502.6L599.5,505.6L600.0,508.6L600.5,511.5L601.0,514.5L601.5,517.4L602.0,520.4L602.4,523.4L602.9,526.3L603.4,529.3L603.8,532.2L604.3,535.2L604.8,538.2L605.2,541.1L605.7,544.1L606.1,547.1L606.6,550.0L607.0,553.0L607.4,556.0L607.9,559.0L608.3,561.9L608.7,564.9L609.1,567.9L609.6,570.8L610.0,573.8L610.4,576.8L610.8,579.7L611.3,582.7L611.7,585.7L612.1,588.7L612.5,591.6L612.9,594.6L613.4,597.6L613.8,600.5L614.2,603.5L614.6,606.5L615.1,609.5L615.5,612.4L615.9,615.4L616.3,618.4L616.8,621.3L617.2,624.3L617.6,627.3L618.1,630.2L618.5,633.2L619.0,636.2L619.5,639.1L619.9,642.1L620.4,645.1L620.9,648.0L621.4,651.0L621.9,653.9L622.4,656.9L622.9,659.9L623.5,662.8L624.0,665.8L624.6,668.7L625.2,671.6L625.8,674.6L626.4,677.5L627.1,680.4L627.7,683.4L628.4,686.3L629.1,689.2L629.8,692.1L630.6,695.0L631.3,697.9L632.1,700.8L632.9,703.7L633.8,706.6L634.6,709.5L635.5,712.4L636.3,715.2L637.2,718.1L638.1,721.0L639.0,723.8L639.9,726.7L640.8,729.6L641.7,732.4L642.6,735.3L643.4,738.2L644.3,741.0L645.2,743.9L646.0,746.8L646.9,749.7L647.7,752.5L648.5,755.4L649.3,758.3L650.1,761.2L650.9,764.1L651.7,767.0L652.4,769.9L653.2,772.8L653.9,775.7L654.7,778.6L655.4,781.6L656.1,784.5L656.8,787.4L657.6,790.3L658.3,793.2L659.0,796.1L659.7,799.0L660.4,801.9L661.2,804.9L661.9,807.8L662.6,810.7L663.4,813.6L664.1,816.5L664.9,819.4L665.6,822.3L666.4,825.2L667.2,828.1L668.0,831.0L668.8,833.9L669.6,836.8L670.5,839.6L671.3,842.5L672.2,845.4L673.1,848.3L674.0,851.1L674.9,854.0L675.9,856.8L676.8,859.6L677.8,862.5L678.9,865.3L679.9,868.1L681.0,870.9L682.1,873.7L683.2,876.5L684.3,879.3L685.5,882.0L686.7,884.8L687.9,887.5L689.2,890.3L690.4,893.0L691.7,895.7L693.1,898.4L694.4,901.1L695.8,903.7L697.2,906.4L698.6,909.0L700.1,911.6L701.6,914.2L703.1,916.8L704.7,919.4L706.3,921.9L708.0,924.4L709.8,926.8L711.6,929.2L713.5,931.5L715.4,933.8L717.5,936.0L719.6,938.1L721.8,940.1L724.2,942.0L726.6,943.8L729.1,945.4L731.7,946.9L734.4,948.2L737.1,949.4L740.0,950.4L742.8,951.3L745.7,952.0L748.7,952.6L751.7,953.1L754.6,953.4L757.6,953.5L760.6,953.6L763.6,953.5L766.6,953.3L769.6,953.0L772.6,952.6L775.5,952.1L778.5,951.5L781.4,950.8L784.3,950.0L787.1,949.1L790.0,948.1L792.8,947.0L795.5,945.8L798.3,944.5L800.9,943.2L803.6,941.7L806.1,940.2L808.7,938.6L811.2,936.9L813.6,935.1L816.0,933.3L818.3,931.4L820.6,929.5L822.8,927.5L825.1,925.5L827.3,923.4L829.4,921.4L831.6,919.3L833.7,917.2L835.8,915.0L837.9,912.9L840.0,910.7L842.0,908.5L844.0,906.3L846.0,904.0L848.0,901.8L849.9,899.5L851.9,897.2L853.8,894.9L855.7,892.5L857.5,890.2L859.4,887.8L861.2,885.4L863.0,883.0L864.8,880.6L866.5,878.2L868.3,875.7L870.0,873.3L871.7,870.8L873.4,868.3L875.0,865.8L876.7,863.3L878.3,860.8L879.9,858.2L881.5,855.7L883.0,853.1L884.6,850.6L886.1,848.0L887.7,845.4L889.2,842.8L890.7,840.2L892.1,837.6L893.6,835.0L895.0,832.3L896.5,829.7L897.9,827.1L899.3,824.4L900.7,821.7L902.0,819.1L903.4,816.4L904.8,813.7L906.1,811.0L907.4,808.3L908.7,805.6L910.0,802.9L911.3,800.2L912.6,797.5L913.8,794.8L915.1,792.0L916.3,789.3L917.5,786.6L918.7,783.8L919.9,781.1L921.1,778.3L922.3,775.5L923.4,772.8L924.6,770.0L925.7,767.2L926.9,764.5L928.0,761.7L929.1,758.9L930.2,756.1L931.3,753.3L932.3,750.5L933.4,747.7L934.5,744.9L935.5,742.1L936.5,739.2L937.6,736.4L938.6,733.6L939.6,730.8L940.6,727.9L941.6,725.1L942.6,722.3L943.5,719.4L944.5,716.6L945.5,713.7L946.4,710.9L947.3,708.1L948.3,705.2L949.2,702.3L950.1,699.5L951.0,696.6L951.9,693.8L952.8,690.9L953.7,688.0L954.6,685.2L955.5,682.3L956.3,679.4L957.2,676.6L958.1,673.7L958.9,670.8L959.8,667.9L960.6,665.0L961.4,662.2L962.2,659.3L963.1,656.4L963.9,653.5L964.7,650.6L965.5,647.7L966.3,644.8L967.0,641.9L967.8,639.0L968.6,636.1L969.3,633.2L970.1,630.3L970.8,627.4L971.5,624.5L972.3,621.6L973.0,618.7L973.7,615.7L974.4,612.8L975.1,609.9L975.8,607.0L976.5,604.1L977.1,601.1L977.8,598.2L978.5,595.3L979.1,592.4L979.7,589.4L980.4,586.5L981.0,583.5L981.6,580.6L982.2,577.7L982.8,574.7L983.4,571.8L983.9,568.8L984.5,565.9L985.1,562.9L985.6,560.0L986.2,557.0L986.7,554.1L987.2,551.1L987.7,548.2L988.2,545.2L988.7,542.3L989.2,539.3L989.7,536.3L990.2,533.4L990.6,530.4L991.1,527.4L991.6,524.5L992.0,521.5L992.5,518.6L992.9,515.6L993.4,512.6L993.8,509.6L994.2,506.7L994.7,503.7L995.1,500.7L995.5,497.8L995.9,494.8L996.4,491.8L996.8,488.9L997.2,485.9L997.6,482.9L998.0,479.9L998.4,477.0L998.9,474.0L999.3,471.0L999.7,468.0L1000.1,465.1L1000.5,462.1L1000.9,459.1L1001.4,456.2L1001.8,453.2L1002.2,450.2L1002.6,447.3L1003.1,444.3L1003.5,441.3L1003.9,438.3L1004.4,435.4L1004.8,432.4L1005.3,429.4L1005.7,426.5L1006.2,423.5L1006.7,420.5L1007.1,417.6L1007.6,414.6L1008.1,411.7L1008.6,408.7L1009.1,405.7L1009.6,402.8L1010.1,399.8L1010.6,396.9L1011.2,393.9L1011.7,391.0L1012.2,388.0L1012.8,385.1L1013.4,382.1L1014.0,379.2L1014.5,376.2L1015.1,373.3L1015.8,370.4L1016.4,367.4L1017.0,364.5L1017.7,361.6L1018.3,358.6L1019.0,355.7L1019.7,352.8L1020.4,349.9L1021.1,347.0L1021.8,344.0L1022.5,341.1L1023.3,338.2L1024.1,335.3L1024.8,332.4L1025.6,329.5L1026.4,326.6L1027.3,323.8L1028.1,320.9L1029.0,318.0L1029.9,315.1L1030.7,312.3L1031.7,309.4L1032.6,306.6L1033.5,303.7L1034.5,300.9L1035.5,298.0L1036.5,295.2L1037.5,292.4L1038.5,289.6L1039.6,286.8L1040.7,284.0L1041.8,281.2L1042.9,278.4L1044.1,275.6L1045.3,272.9L1046.5,270.1L1047.7,267.4L1049.0,264.7L1050.3,262.0L1051.6,259.3L1053.0,256.6L1054.4,254.0L1055.8,251.3L1057.3,248.7L1058.8,246.1L1060.3,243.5L1061.9,241.0L1063.5,238.5L1065.2,236.0L1066.9,233.5L1068.7,231.1L1070.5,228.6L1072.3,226.3L1074.2,223.9L1076.1,221.6L1078.0,219.4L1080.1,217.1L1082.1,214.9L1084.2,212.8L1086.3,210.7L1088.5,208.6L1090.8,206.6L1093.0,204.7L1095.3,202.8L1097.7,200.9L1100.1,199.1L1102.5,197.3L1105.0,195.6L1107.5,194.0L1110.1,192.4L1112.6,190.9L1115.3,189.4L1117.9,188.0L1120.6,186.7L1123.3,185.4L1126.1,184.2L1128.8,183.1L1131.7,182.0L1134.5,181.1L1137.4,180.2L1140.3,179.4L1143.2,178.7L1146.1,178.0L1149.1,177.5L1152.0,177.1L1155.0,176.8L1158.0,176.5L1161.0,176.4L1164.0,176.4L1167.0,176.5L1170.0,176.6L1173.0,176.9L1176.0,177.3L1178.9,177.7L1181.9,178.3L1184.8,178.9L1187.7,179.6L1190.6,180.4L1193.5,181.3L1196.4,182.2L1199.2,183.2L1202.0,184.3L1204.8,185.4L1207.5,186.7L1210.2,187.9L1212.9,189.3L1215.5,190.7L1218.2,192.1L1220.8,193.7L1223.3,195.2L1225.8,196.9L1228.3,198.5L1230.8,200.3L1233.2,202.1L1235.6,203.9L1237.9,205.8L1240.2,207.7L1242.4,209.7L1244.6,211.7L1246.8,213.8L1248.9,215.9L1251.0,218.1L1253.0,220.3L1255.0,222.5L1257.0,224.8L1258.9,227.2L1260.7,229.5L1262.5,231.9L1264.3,234.3L1266.0,236.8L1267.7,239.3L1269.4,241.8L1271.0,244.3L1272.6,246.8L1274.2,249.4L1275.7,252.0L1277.2,254.5L1278.7,257.1L1280.2,259.8L1281.7,262.4L1283.1,265.0L1284.6,267.7L1286.0,270.3L1287.4,272.9L1288.8,275.6L1290.2,278.3L1291.6,280.9L1292.9,283.6L1294.3,286.3L1295.6,289.0L1296.9,291.7L1298.2,294.4L1299.5,297.1L1300.8,299.8L1302.0,302.5L1303.2,305.3L1304.4,308.0L1305.6,310.8L1306.8,313.5L1307.9,316.3L1309.0,319.1L1310.1,321.9L1311.1,324.7L1312.1,327.5L1313.2,330.4L1314.1,333.2L1315.1,336.1L1316.0,338.9L1316.9,341.8L1317.8,344.6L1318.7,347.5L1319.6,350.4L1320.4,353.3L1321.2,356.1L1322.0,359.0L1322.8,361.9L1323.6,364.8L1324.3,367.7L1325.0,370.7L1325.8,373.6L1326.5,376.5L1327.2,379.4L1327.9,382.3L1328.5,385.2L1329.2,388.2L1329.8,391.1L1330.5,394.0L1331.1,397.0L1331.7,399.9L1332.3,402.8L1332.9,405.8L1333.5,408.7L1334.1,411.7L1334.7,414.6L1335.3,417.6L1335.8,420.5L1336.4,423.5L1337.0,426.4L1337.5,429.3L1338.1,432.3L1338.6,435.2L1339.2,438.2L1339.7,441.1L1340.3,444.1L1340.8,447.0L1341.4,450.0L1342.0,452.9L1342.5,455.9L1343.1,458.8L1343.6,461.8L1344.2,464.7L1344.7,467.7L1345.3,470.6L1345.9,473.6L1346.4,476.5L1347.0,479.5L1347.5,482.4L1348.1,485.4L1348.6,488.3L1349.2,491.3L1349.7,494.2L1350.3,497.2L1350.8,500.1L1351.4,503.1L1351.9,506.0L1352.4,509.0L1353.0,511.9L1353.5,514.9L1354.1,517.8L1354.6,520.8L1355.1,523.7L1355.6,526.7L1356.2,529.7L1356.7,532.6L1357.2,535.6L1357.7,538.5L1358.2,541.5L1358.8,544.4L1359.3,547.4L1359.8,550.3L1360.3,553.3L1360.8,556.3L1361.3,559.2L1361.7,562.2L1362.2,565.2L1362.7,568.1L1363.2,571.1L1363.7,574.0L1364.1,577.0L1364.6,580.0L1365.1,582.9L1365.5,585.9L1366.0,588.9L1366.5,591.8L1366.9,594.8L1367.4,597.8L1367.8,600.7L1368.3,603.7L1368.8,606.6L1369.2,609.6L1369.7,612.6L1370.2,615.5L1370.6,618.5L1371.1,621.5L1371.6,624.4L1372.1,627.4L1372.5,630.4L1373.0,633.3L1373.5,636.3L1374.0,639.2L1374.5,642.2L1375.0,645.2L1375.5,648.1L1376.0,651.1L1376.5,654.0L1377.1,657.0L1377.6,659.9L1378.1,662.9L1378.7,665.8L1379.2,668.8L1379.8,671.7L1380.3,674.7L1380.9,677.6L1381.5,680.6L1382.1,683.5L1382.7,686.5L1383.3,689.4L1383.9,692.3L1384.6,695.3L1385.2,698.2L1385.8,701.1L1386.5,704.0L1387.2,707.0L1387.9,709.9L1388.6,712.8L1389.3,715.7L1390.0,718.6L1390.8,721.5L1391.5,724.5L1392.3,727.4L1393.0,730.3L1393.8,733.2L1394.6,736.0L1395.4,738.9L1396.2,741.8L1397.0,744.7L1397.8,747.6L1398.7,750.5L1399.5,753.4L1400.3,756.3L1401.2,759.1L1402.0,762.0L1402.9,764.9L1403.7,767.8L1404.6,770.6L1405.4,773.5L1406.3,776.4L1407.2,779.3L1408.0,782.1L1408.9,785.0L1409.7,787.9L1410.6,790.8L1411.4,793.7L1412.3,796.5L1413.1,799.4L1414.0,802.3L1414.8,805.2L1415.6,808.1L1416.5,810.9L1417.3,813.8L1418.1,816.7L1418.9,819.6L1419.7,822.5L1420.5,825.4L1421.3,828.3L1422.1,831.2L1422.8,834.1L1423.6,837.0L1424.4,839.9L1425.2,842.8L1425.9,845.7L1426.7,848.6L1427.5,851.5L1428.3,854.4L1429.2,857.2L1430.0,860.1L1430.9,863.0L1431.8,865.9L1432.7,868.7L1433.6,871.6L1434.5,874.4L1435.5,877.3L1436.5,880.1L1437.6,882.9L1438.7,885.7L1439.8,888.5L1440.9,891.2L1442.1,894.0L1443.4,896.7L1444.7,899.4L1446.0,902.1L1447.4,904.8L1448.8,907.4L1450.3,910.0L1451.9,912.6L1453.5,915.1L1455.1,917.7L1456.8,920.1L1458.5,922.6L1460.4,925.0L1462.2,927.3L1464.1,929.6L1466.1,931.9L1468.2,934.0L1470.3,936.2L1472.5,938.2L1474.8,940.2L1477.1,942.1L1479.5,943.9L1482.0,945.5L1484.6,947.1L1487.2,948.5L1489.9,949.8L1492.7,950.9L1495.6,951.8L1498.5,952.6L1501.4,953.2L1504.4,953.6L1507.4,953.9L1510.4,954.0L1513.4,954.1L1516.4,953.9L1519.4,953.7L1522.3,953.3L1525.3,952.9L1528.3,952.3L1531.2,951.6L1534.1,950.9L1537.0,950.1L1539.8,949.1L1542.6,948.1L1545.4,947.0L1548.2,945.9L1550.9,944.7L1553.7,943.4L1556.3,942.0L1559.0,940.5L1561.5,939.0L1564.1,937.5L1566.6,935.8L1569.1,934.1L1571.5,932.4L1573.9,930.6L1576.3,928.7L1578.6,926.9L1580.9,924.9L1583.2,922.9L1585.4,920.9L1587.6,918.8L1589.7,916.7L1591.8,914.6L1593.9,912.4L1595.9,910.2L1597.9,908.0L1599.9,905.7L1601.8,903.4L1603.7,901.1L1605.6,898.8L1607.5,896.4L1609.3,894.0L1611.1,891.7L1612.9,889.2L1614.7,886.8L1616.4,884.4L1618.2,881.9L1619.9,879.5L1621.5,877.0L1623.2,874.5L1624.9,872.0L1626.5,869.5L1628.1,866.9L1629.8,864.4L1631.4,861.9L1633.0,859.3L1634.5,856.8L1636.1,854.2L1637.6,851.6L1639.2,849.1L1640.7,846.5L1642.2,843.9L1643.7,841.3L1645.1,838.7L1646.6,836.0L1648.0,833.4L1649.5,830.8L1650.9,828.1L1652.3,825.5L1653.7,822.8L1655.1,820.1L1656.4,817.5L1657.8,814.8L1659.1,812.1L1660.4,809.4L1661.8,806.7L1663.1,804.0L1664.3,801.3L1665.6,798.6L1666.9,795.9L1668.1,793.1L1669.3,790.4L1670.6,787.6L1671.8,784.9L1673.0,782.2L1674.2,779.4L1675.3,776.6L1676.5,773.9L1677.6,771.1L1678.8,768.3L1679.9,765.5L1681.0,762.8L1682.1,760.0L1683.2,757.2L1684.3,754.4L1685.4,751.6L1686.5,748.8L1687.5,746.0L1688.6,743.1L1689.6,740.3L1690.6,737.5L1691.7,734.7L1692.7,731.9L1693.7,729.0L1694.7,726.2L1695.7,723.4L1696.6,720.5L1697.6,717.7L1698.6,714.9L1699.5,712.0L1700.5,709.2L1701.4,706.3L1702.4,703.5L1703.3,700.6L1704.2,697.8L1705.1,694.9L1706.1,692.0L1707.0,689.2L1707.9,686.3L1708.8,683.5L1709.7,680.6L1710.6,677.7L1711.4,674.9L1712.3,672.0L1713.2,669.1L1714.1,666.3L1714.9,663.4L1715.8,660.5L1716.7,657.6L1717.5,654.8L1718.4,651.9L1719.3,649.0L1720.1,646.1L1721.0,643.3L1721.8,640.4L1722.7,637.5L1723.5,634.6L1724.3,631.7L1725.2,628.9L1726.0,626.0L1726.9,623.1L1727.7,620.2" stroke="#38ae6c"/>
<path d="M221.2,627.0L221.7,624.1L222.3,621.1L222.8,618.2L223.3,615.2L223.8,612.2L224.3,609.3L224.8,606.3L225.2,603.4L225.7,600.4L226.2,597.4L226.7,594.5L227.1,591.5L227.6,588.5L228.1,585.6L228.5,582.6L229.0,579.6L229.4,576.7L229.9,573.7L230.4,570.7L230.8,567.8L231.2,564.8L231.7,561.8L232.1,558.9L232.6,555.9L233.0,552.9L233.4,549.9L233.9,547.0L234.3,544.0L234.7,541.0L235.2,538.1L235.6,535.1L236.0,532.1L236.5,529.1L236.9,526.2L237.3,523.2L237.8,520.2L238.2,517.3L238.6,514.3L239.1,511.3L239.5,508.3L239.9,505.4L240.4,502.4L240.8,499.4L241.2,496.5L241.7,493.5L242.1,490.5L242.5,487.6L243.0,484.6L243.4,481.6L243.9,478.6L244.3,475.7L244.8,472.7L245.2,469.7L245.7,466.8L246.1,463.8L246.6,460.8L247.1,457.9L247.5,454.9L248.0,451.9L248.5,449.0L248.9,446.0L249.4,443.0L249.9,440.1L250.4,437.1L250.9,434.2L251.4,431.2L251.9,428.2L252.4,425.3L252.9,422.3L253.4,419.4L254.0,416.4L254.5,413.5L255.0,410.5L255.6,407.5L256.1,404.6L256.6,401.6L257.2,398.7L257.8,395.7L258.3,392.8L258.9,389.8L259.5,386.9L260.1,384.0L260.7,381.0L261.3,378.1L261.9,375.1L262.5,372.2L263.1,369.3L263.8,366.3L264.4,363.4L265.0,360.5L265.7,357.5L266.4,354.6L267.0,351.7L267.7,348.8L268.4,345.8L269.1,342.9L269.8,340.0L270.5,337.1L271.3,334.2L272.0,331.3L272.7,328.3L273.5,325.4L274.3,322.5L275.1,319.6L275.9,316.8L276.7,313.9L277.6,311.0L278.4,308.1L279.3,305.2L280.2,302.4L281.1,299.5L282.0,296.7L283.0,293.8L283.9,291.0L284.9,288.1L285.9,285.3L287.0,282.5L288.0,279.7L289.1,276.9L290.2,274.1L291.3,271.3L292.5,268.5L293.6,265.8L294.8,263.0L296.1,260.3L297.3,257.5L298.6,254.8L299.9,252.1L301.3,249.4L302.6,246.8L304.0,244.1L305.4,241.4L306.9,238.8L308.4,236.2L309.9,233.6L311.4,231.0L313.0,228.5L314.6,225.9L316.2,223.4L317.9,220.9L319.6,218.4L321.3,216.0L323.0,213.5L324.8,211.1L326.6,208.7L328.5,206.4L330.4,204.0L332.3,201.7L334.2,199.4L336.2,197.2L338.3,195.0L340.3,192.8L342.4,190.7L344.6,188.6L346.8,186.5L349.0,184.5L351.3,182.5L353.6,180.6L355.9,178.7L358.3,176.9L360.8,175.2L363.3,173.5L365.8,171.9L368.4,170.4L371.0,169.0L373.7,167.6L376.4,166.3L379.2,165.1L382.0,164.0L384.8,163.1L387.7,162.2L390.6,161.4L393.5,160.8L396.5,160.3L399.4,159.8L402.4,159.5L405.4,159.4L408.4,159.3L411.4,159.3L414.4,159.4L417.4,159.7L420.4,160.0L423.4,160.4L426.3,160.9L429.3,161.5L432.2,162.1L435.1,162.9L438.0,163.7L440.9,164.6L443.7,165.6L446.5,166.7L449.3,167.8L452.0,169.0L454.8,170.3L457.4,171.7L460.1,173.1L462.7,174.6L465.2,176.1L467.8,177.8L470.2,179.5L472.7,181.2L475.1,183.1L477.4,185.0L479.7,186.9L481.9,188.9L484.1,191.0L486.2,193.1L488.3,195.2L490.4,197.4L492.4,199.7L494.3,201.9L496.3,204.2L498.2,206.6L500.0,208.9L501.8,211.3L503.6,213.7L505.4,216.2L507.1,218.6L508.8,221.1L510.4,223.6L512.1,226.1L513.7,228.7L515.3,231.2L516.8,233.8L518.3,236.4L519.8,239.0L521.3,241.6L522.8,244.2L524.2,246.9L525.6,249.5L527.0,252.2L528.3,254.9L529.6,257.6L530.9,260.3L532.2,263.0L533.5,265.7L534.7,268.4L535.9,271.2L537.1,273.9L538.3,276.7L539.5,279.5L540.6,282.2L541.8,285.0L542.9,287.8L544.0,290.6L545.0,293.4L546.1,296.2L547.1,299.0L548.2,301.9L549.2,304.7L550.2,307.5L551.2,310.3L552.2,313.2L553.2,316.0L554.1,318.9L555.1,321.7L556.0,324.5L557.0,327.4L557.9,330.3L558.8,333.1L559.7,336.0L560.7,338.8L561.6,341.7L562.4,344.6L563.3,347.4L564.2,350.3L565.1,353.2L565.9,356.1L566.8,358.9L567.6,361.8L568.5,364.7L569.3,367.6L570.1,370.5L570.9,373.4L571.7,376.3L572.5,379.2L573.3,382.0L574.1,384.9L574.9,387.8L575.6,390.7L576.4,393.7L577.2,396.6L577.9,399.5L578.6,402.4L579.4,405.3L580.1,408.2L580.8,411.1L581.5,414.0L582.2,417.0L582.9,419.9L583.6,422.8L584.2,425.7L584.9,428.7L585.5,431.6L586.2,434.5L586.8,437.5L587.5,440.4L588.1,443.3L588.7,446.3L589.3,449.2L589.9,452.2L590.5,455.1L591.1,458.0L591.7,461.0L592.2,463.9L592.8,466.9L593.4,469.8L593.9,472.8L594.4,475.7L595.0,478.7L595.5,481.7L596.0,484.6L596.5,487.6L597.0,490.5L597.5,493.5L598.0,496.5L598.5,499.4L598.9,502.4L599.4,505.4L599.8,508.3L600.3,511.3L600.7,514.3L601.2,517.2L601.6,520.2L602.0,523.2L602.4,526.1L602.8,529.1L603.2,532.1L603.6,535.1L604.1,538.0L604.5,541.0L604.8,544.0L605.2,547.0L605.6,550.0L606.0,552.9L606.4,555.9L606.8,558.9L607.2,561.9L607.6,564.8L608.0,567.8L608.4,570.8L608.8,573.8L609.2,576.7L609.6,579.7L610.0,582.7L610.4,585.7L610.9,588.6L611.3,591.6L611.7,594.6L612.1,597.5L612.6,600.5L613.0,603.5L613.5,606.5L614.0,609.4L614.4,612.4L614.9,615.3L615.4,618.3L615.9,621.3L616.4,624.2L616.9,627.2L617.5,630.1L618.0,633.1L618.5,636.0L619.1,639.0L619.7,641.9L620.3,644.9L620.9,647.8L621.5,650.8L622.1,653.7L622.8,656.6L623.4,659.6L624.1,662.5L624.8,665.4L625.5,668.3L626.2,671.3L626.9,674.2L627.6,677.1L628.3,680.0L629.1,682.9L629.8,685.8L630.6,688.7L631.3,691.6L632.1,694.5L632.8,697.4L633.6,700.3L634.4,703.2L635.2,706.1L636.0,709.0L636.7,711.9L637.5,714.8L638.3,717.7L639.1,720.6L639.9,723.5L640.7,726.4L641.5,729.3L642.3,732.2L643.1,735.1L643.9,738.0L644.6,740.9L645.4,743.8L646.2,746.7L647.0,749.6L647.8,752.5L648.5,755.4L649.3,758.3L650.0,761.2L650.8,764.1L651.5,767.0L652.2,769.9L653.0,772.9L653.7,775.8L654.4,778.7L655.1,781.6L655.8,784.5L656.4,787.5L657.1,790.4L657.8,793.3L658.5,796.2L659.1,799.2L659.8,802.1L660.5,805.0L661.1,807.9L661.8,810.9L662.5,813.8L663.2,816.7L663.9,819.6L664.6,822.6L665.3,825.5L666.0,828.4L666.7,831.3L667.4,834.2L668.2,837.1L668.9,840.0L669.7,842.9L670.5,845.8L671.3,848.7L672.1,851.6L673.0,854.5L673.8,857.4L674.7,860.2L675.6,863.1L676.5,866.0L677.5,868.8L678.5,871.7L679.4,874.5L680.5,877.3L681.5,880.1L682.6,882.9L683.7,885.7L684.8,888.5L686.0,891.3L687.2,894.0L688.4,896.8L689.7,899.5L690.9,902.2L692.3,904.9L693.6,907.6L695.0,910.3L696.4,912.9L697.9,915.5L699.4,918.1L700.9,920.7L702.5,923.2L704.2,925.7L705.9,928.2L707.6,930.7L709.4,933.0L711.3,935.4L713.3,937.7L715.3,939.9L717.3,942.1L719.5,944.2L721.7,946.2L724.0,948.1L726.4,950.0L728.8,951.7L731.4,953.3L734.0,954.8L736.7,956.2L739.4,957.4L742.2,958.4L745.1,959.3L748.0,960.1L750.9,960.7L753.9,961.1L756.9,961.3L759.9,961.5L762.9,961.5L765.9,961.4L768.9,961.1L771.9,960.8L774.8,960.3L777.8,959.7L780.7,959.0L783.6,958.3L786.5,957.4L789.3,956.4L792.1,955.4L794.9,954.2L797.6,953.0L800.3,951.7L803.0,950.3L805.6,948.8L808.1,947.2L810.6,945.5L813.1,943.8L815.5,941.9L817.8,940.1L820.1,938.1L822.3,936.1L824.5,934.1L826.7,932.0L828.8,929.9L830.9,927.7L833.0,925.5L835.0,923.3L837.0,921.1L839.0,918.8L840.9,916.6L842.9,914.3L844.8,912.0L846.7,909.6L848.6,907.3L850.4,904.9L852.2,902.5L854.0,900.1L855.8,897.7L857.6,895.3L859.3,892.8L861.0,890.4L862.8,887.9L864.4,885.4L866.1,882.9L867.8,880.4L869.4,877.9L871.0,875.4L872.6,872.8L874.2,870.3L875.7,867.7L877.3,865.1L878.8,862.5L880.3,859.9L881.8,857.3L883.3,854.7L884.8,852.1L886.2,849.5L887.7,846.9L889.1,844.2L890.5,841.6L891.9,838.9L893.3,836.3L894.7,833.6L896.1,831.0L897.5,828.3L898.8,825.6L900.2,822.9L901.5,820.2L902.9,817.5L904.2,814.8L905.5,812.1L906.8,809.4L908.1,806.7L909.4,804.0L910.6,801.3L911.9,798.6L913.2,795.8L914.4,793.1L915.6,790.4L916.9,787.6L918.1,784.9L919.3,782.1L920.5,779.4L921.7,776.6L922.8,773.9L924.0,771.1L925.2,768.3L926.3,765.6L927.5,762.8L928.6,760.0L929.7,757.2L930.8,754.4L931.9,751.6L933.0,748.8L934.1,746.0L935.2,743.2L936.3,740.4L937.3,737.6L938.4,734.8L939.4,732.0L940.4,729.2L941.5,726.3L942.5,723.5L943.5,720.7L944.5,717.9L945.5,715.0L946.4,712.2L947.4,709.3L948.4,706.5L949.3,703.6L950.2,700.8L951.2,697.9L952.1,695.1L953.0,692.2L953.9,689.4L954.8,686.5L955.7,683.6L956.6,680.8L957.4,677.9L958.3,675.0L959.2,672.1L960.0,669.2L960.8,666.4L961.7,663.5L962.5,660.6L963.3,657.7L964.1,654.8L964.9,651.9L965.7,649.0L966.4,646.1L967.2,643.2L968.0,640.3L968.7,637.4L969.4,634.5L970.2,631.6L970.9,628.7L971.6,625.7L972.3,622.8L973.0,619.9L973.7,617.0L974.4,614.0L975.1,611.1L975.7,608.2L976.4,605.3L977.0,602.3L977.7,599.4L978.3,596.5L978.9,593.5L979.5,590.6L980.1,587.6L980.7,584.7L981.3,581.8L981.9,578.8L982.5,575.9L983.0,572.9L983.6,570.0L984.1,567.0L984.7,564.1L985.2,561.1L985.7,558.2L986.3,555.2L986.8,552.2L987.3,549.3L987.8,546.3L988.3,543.4L988.7,540.4L989.2,537.4L989.7,534.5L990.2,531.5L990.6,528.5L991.1,525.6L991.5,522.6L992.0,519.6L992.4,516.7L992.9,513.7L993.3,510.7L993.7,507.7L994.2,504.8L994.6,501.8L995.0,498.8L995.4,495.9L995.9,492.9L996.3,489.9L996.7,486.9L997.1,484.0L997.5,481.0L998.0,478.0L998.4,475.0L998.8,472.1L999.2,469.1L999.7,466.1L1000.1,463.2L1000.5,460.2L1000.9,457.2L1001.4,454.2L1001.8,451.3L1002.2,448.3L1002.7,445.3L1003.1,442.4L1003.6,439.4L1004.0,436.4L1004.5,433.5L1004.9,430.5L1005.4,427.5L1005.9,424.6L1006.4,421.6L1006.8,418.6L1007.3,415.7L1007.8,412.7L1008.3,409.8L1008.8,406.8L1009.4,403.8L1009.9,400.9L1010.4,397.9L1011.0,395.0L1011.5,392.0L1012.1,389.1L1012.6,386.1L1013.2,383.2L1013.8,380.2L1014.4,377.3L1015.0,374.4L1015.6,371.4L1016.3,368.5L1016.9,365.5L1017.6,362.6L1018.2,359.7L1018.9,356.8L1019.6,353.8L1020.3,350.9L1021.0,348.0L1021.8,345.1L1022.5,342.2L1023.3,339.3L1024.0,336.4L1024.8,333.5L1025.6,330.6L1026.4,327.7L1027.3,324.8L1028.1,321.9L1029.0,319.1L1029.8,316.2L1030.7,313.3L1031.6,310.5L1032.6,307.6L1033.5,304.8L1034.5,301.9L1035.5,299.1L1036.4,296.2L1037.5,293.4L1038.5,290.6L1039.5,287.8L1040.6,285.0L1041.7,282.2L1042.8,279.4L1043.9,276.6L1045.0,273.8L1046.2,271.0L1047.3,268.3L1048.5,265.5L1049.7,262.7L1050.9,260.0L1052.1,257.3L1053.4,254.5L1054.6,251.8L1055.9,249.1L1057.2,246.4L1058.5,243.7L1059.9,241.0L1061.2,238.3L1062.6,235.6L1064.0,233.0L1065.4,230.3L1066.8,227.7L1068.2,225.0L1069.7,222.4L1071.1,219.8L1072.6,217.2L1074.2,214.6L1075.7,212.0L1077.3,209.5L1079.0,207.0L1080.7,204.5L1082.5,202.1L1084.3,199.7L1086.3,197.4L1088.2,195.2L1090.3,193.0L1092.4,190.8L1094.5,188.7L1096.7,186.7L1099.0,184.7L1101.3,182.8L1103.7,181.0L1106.1,179.2L1108.5,177.4L1111.0,175.8L1113.6,174.2L1116.1,172.6L1118.8,171.1L1121.4,169.7L1124.1,168.4L1126.8,167.1L1129.6,165.9L1132.4,164.8L1135.2,163.8L1138.0,162.8L1140.9,161.9L1143.8,161.2L1146.7,160.5L1149.6,159.9L1152.6,159.4L1155.6,158.9L1158.6,158.7L1161.6,158.5L1164.6,158.4L1167.6,158.4L1170.6,158.6L1173.6,158.9L1176.5,159.3L1179.5,159.8L1182.4,160.5L1185.3,161.2L1188.2,162.0L1191.1,163.0L1193.9,164.0L1196.7,165.1L1199.4,166.3L1202.1,167.6L1204.8,168.9L1207.5,170.4L1210.1,171.9L1212.7,173.4L1215.2,175.0L1217.7,176.7L1220.1,178.4L1222.6,180.2L1225.0,182.0L1227.3,183.9L1229.6,185.8L1231.9,187.7L1234.1,189.7L1236.3,191.8L1238.5,193.8L1240.7,195.9L1242.8,198.1L1244.8,200.2L1246.9,202.4L1248.9,204.7L1250.9,206.9L1252.8,209.2L1254.7,211.6L1256.6,213.9L1258.4,216.3L1260.2,218.7L1262.0,221.1L1263.7,223.6L1265.4,226.0L1267.1,228.5L1268.7,231.0L1270.3,233.6L1271.9,236.1L1273.5,238.7L1275.0,241.3L1276.5,243.9L1277.9,246.5L1279.4,249.2L1280.8,251.8L1282.2,254.5L1283.5,257.2L1284.8,259.8L1286.2,262.5L1287.4,265.3L1288.7,268.0L1289.9,270.7L1291.2,273.5L1292.4,276.2L1293.5,279.0L1294.7,281.8L1295.8,284.5L1297.0,287.3L1298.1,290.1L1299.1,292.9L1300.2,295.7L1301.3,298.5L1302.3,301.3L1303.3,304.2L1304.4,307.0L1305.4,309.8L1306.3,312.6L1307.3,315.5L1308.3,318.3L1309.3,321.2L1310.2,324.0L1311.1,326.9L1312.1,329.7L1313.0,332.6L1313.9,335.5L1314.8,338.3L1315.6,341.2L1316.5,344.1L1317.4,346.9L1318.2,349.8L1319.1,352.7L1319.9,355.6L1320.7,358.5L1321.5,361.4L1322.3,364.3L1323.1,367.2L1323.9,370.1L1324.7,373.0L1325.5,375.9L1326.2,378.8L1327.0,381.7L1327.7,384.6L1328.5,387.5L1329.2,390.4L1329.9,393.3L1330.6,396.2L1331.3,399.2L1332.0,402.1L1332.7,405.0L1333.3,407.9L1334.0,410.9L1334.7,413.8L1335.3,416.7L1336.0,419.6L1336.6,422.6L1337.3,425.5L1337.9,428.4L1338.5,431.4L1339.1,434.3L1339.7,437.3L1340.3,440.2L1340.9,443.1L1341.5,446.1L1342.1,449.0L1342.7,452.0L1343.2,454.9L1343.8,457.9L1344.4,460.8L1344.9,463.8L1345.5,466.7L1346.0,469.7L1346.5,472.6L1347.1,475.6L1347.6,478.5L1348.1,481.5L1348.7,484.5L1349.2,487.4L1349.7,490.4L1350.2,493.3L1350.7,496.3L1351.2,499.3L1351.7,502.2L1352.2,505.2L1352.7,508.1L1353.2,511.1L1353.7,514.1L1354.2,517.0L1354.7,520.0L1355.1,522.9L1355.6,525.9L1356.1,528.9L1356.6,531.8L1357.0,534.8L1357.5,537.8L1358.0,540.7L1358.4,543.7L1358.9,546.7L1359.4,549.6L1359.8,552.6L1360.3,555.6L1360.7,558.5L1361.2,561.5L1361.7,564.5L1362.1,567.4L1362.6,570.4L1363.0,573.4L1363.5,576.3L1363.9,579.3L1364.4,582.3L1364.9,585.2L1365.3,588.2L1365.8,591.2L1366.3,594.1L1366.7,597.1L1367.2,600.1L1367.7,603.0L1368.1,606.0L1368.6,609.0L1369.1,611.9L1369.6,614.9L1370.0,617.9L1370.5,620.8L1371.0,623.8L1371.5,626.7L1372.0,629.7L1372.5,632.7L1373.0,635.6L1373.6,638.6L1374.1,641.5L1374.6,644.5L1375.1,647.4L1375.7,650.4L1376.2,653.4L1376.8,656.3L1377.3,659.3L1377.9,662.2L1378.4,665.2L1379.0,668.1L1379.6,671.0L1380.2,674.0L1380.8,676.9L1381.4,679.9L1382.0,682.8L1382.6,685.7L1383.3,688.7L1383.9,691.6L1384.6,694.5L1385.2,697.5L1385.9,700.4L1386.6,703.3L1387.3,706.3L1388.0,709.2L1388.7,712.1L1389.4,715.0L1390.1,717.9L1390.9,720.8L1391.6,723.7L1392.4,726.6L1393.1,729.5L1393.9,732.4L1394.7,735.3L1395.5,738.2L1396.3,741.1L1397.1,744.0L1397.9,746.9L1398.7,749.8L1399.6,752.7L1400.4,755.6L1401.2,758.5L1402.0,761.3L1402.9,764.2L1403.7,767.1L1404.6,770.0L1405.4,772.9L1406.2,775.8L1407.1,778.6L1407.9,781.5L1408.7,784.4L1409.6,787.3L1410.4,790.2L1411.3,793.1L1412.1,795.9L1412.9,798.8L1413.7,801.7L1414.5,804.6L1415.4,807.5L1416.2,810.4L1417.0,813.3L1417.8,816.2L1418.5,819.1L1419.3,822.0L1420.1,824.9L1420.9,827.8L1421.6,830.7L1422.4,833.6L1423.1,836.5L1423.9,839.4L1424.6,842.3L1425.4,845.2L1426.1,848.1L1426.9,851.0L1427.7,853.9L1428.4,856.8L1429.2,859.7L1430.0,862.6L1430.9,865.5L1431.7,868.4L1432.6,871.3L1433.4,874.1L1434.4,877.0L1435.3,879.9L1436.2,882.7L1437.2,885.5L1438.2,888.4L1439.3,891.2L1440.3,894.0L1441.4,896.8L1442.6,899.5L1443.8,902.3L1445.0,905.1L1446.2,907.8L1447.5,910.5L1448.8,913.2L1450.2,915.9L1451.6,918.5L1453.1,921.2L1454.6,923.8L1456.1,926.3L1457.7,928.9L1459.4,931.4L1461.1,933.8L1462.9,936.2L1464.8,938.6L1466.7,940.8L1468.8,943.1L1470.9,945.2L1473.1,947.2L1475.4,949.1L1477.8,950.9L1480.3,952.6L1482.9,954.1L1485.6,955.5L1488.3,956.7L1491.1,957.8L1494.0,958.7L1496.9,959.4L1499.8,960.0L1502.8,960.5L1505.8,960.9L1508.8,961.1L1511.8,961.2L1514.8,961.1L1517.8,961.0L1520.8,960.8L1523.7,960.4L1526.7,960.0L1529.7,959.4L1532.6,958.8L1535.5,958.1L1538.4,957.3L1541.3,956.5L1544.1,955.5L1547.0,954.5L1549.8,953.4L1552.5,952.2L1555.3,951.0L1558.0,949.7L1560.6,948.4L1563.3,946.9L1565.9,945.5L1568.5,943.9L1571.0,942.3L1573.5,940.6L1575.9,938.9L1578.4,937.1L1580.7,935.2L1583.0,933.3L1585.3,931.4L1587.5,929.3L1589.7,927.3L1591.8,925.2L1593.9,923.0L1596.0,920.8L1598.0,918.6L1600.0,916.3L1601.9,914.0L1603.7,911.7L1605.6,909.3L1607.4,906.9L1609.2,904.5L1610.9,902.0L1612.6,899.5L1614.2,897.0L1615.9,894.5L1617.5,892.0L1619.1,889.4L1620.6,886.8L1622.1,884.3L1623.6,881.7L1625.1,879.0L1626.6,876.4L1628.0,873.8L1629.4,871.2L1630.9,868.5L1632.3,865.8L1633.7,863.2L1635.0,860.5L1636.4,857.9L1637.8,855.2L1639.2,852.5L1640.5,849.8L1641.9,847.2L1643.2,844.5L1644.6,841.8L1645.9,839.1L1647.3,836.4L1648.6,833.7L1649.9,831.0L1651.3,828.4L1652.6,825.7L1653.9,823.0L1655.2,820.3L1656.5,817.5L1657.8,814.8L1659.1,812.1L1660.4,809.4L1661.6,806.7L1662.9,804.0L1664.1,801.2L1665.4,798.5L1666.6,795.8L1667.9,793.0L1669.1,790.3L1670.3,787.5L1671.5,784.8L1672.7,782.0L1673.9,779.3L1675.1,776.5L1676.2,773.8L1677.4,771.0L1678.5,768.2L1679.7,765.4L1680.8,762.6L1681.9,759.9L1683.0,757.1L1684.1,754.3L1685.2,751.5L1686.3,748.7L1687.4,745.9L1688.4,743.1L1689.5,740.2L1690.5,737.4L1691.5,734.6L1692.6,731.8L1693.6,729.0L1694.6,726.1L1695.6,723.3L1696.6,720.5L1697.6,717.6L1698.6,714.8L1699.5,712.0L1700.5,709.1L1701.5,706.3L1702.4,703.4L1703.3,700.6L1704.3,697.7L1705.2,694.9L1706.1,692.0L1707.1,689.2L1708.0,686.3L1708.9,683.4L1709.8,680.6L1710.7,677.7L1711.6,674.8L1712.5,672.0L1713.3,669.1L1714.2,666.2L1715.1,663.4L1715.9,660.5L1716.8,657.6L1717.7,654.7L1718.5,651.8L1719.4,649.0L1720.2,646.1L1721.0,643.2L1721.9,640.3L1722.7,637.4L1723.5,634.5L1724.4,631.7L1725.2,628.8L1726.0,625.9L1726.8,623.0L1727.6,620.1" stroke="#ae77dd"/>
<path d="M221.1,627.1L221.6,624.1L222.2,621.2L222.7,618.2L223.2,615.2L223.7,612.3L224.3,609.3L224.8,606.4L225.3,603.4L225.8,600.5L226.3,597.5L226.7,594.5L227.2,591.6L227.7,588.6L228.2,585.6L228.6,582.7L229.1,579.7L229.6,576.8L230.0,573.8L230.5,570.8L230.9,567.9L231.4,564.9L231.8,561.9L232.3,559.0L232.7,556.0L233.1,553.0L233.6,550.0L234.0,547.1L234.4,544.1L234.9,541.1L235.3,538.2L235.7,535.2L236.2,532.2L236.6,529.3L237.0,526.3L237.4,523.3L237.8,520.3L238.3,517.4L238.7,514.4L239.1,511.4L239.5,508.5L240.0,505.5L240.4,502.5L240.8,499.5L241.2,496.6L241.7,493.6L242.1,490.6L242.5,487.7L242.9,484.7L243.4,481.7L243.8,478.7L244.2,475.8L244.7,472.8L245.1,469.8L245.6,466.9L246.0,463.9L246.5,460.9L246.9,458.0L247.4,455.0L247.8,452.0L248.3,449.1L248.8,446.1L249.3,443.2L249.7,440.2L250.2,437.2L250.7,434.3L251.2,431.3L251.7,428.3L252.2,425.4L252.7,422.4L253.2,419.5L253.7,416.5L254.3,413.6L254.8,410.6L255.3,407.7L255.9,404.7L256.4,401.8L257.0,398.8L257.6,395.9L258.1,392.9L258.7,390.0L259.3,387.0L259.9,384.1L260.5,381.1L261.1,378.2L261.7,375.3L262.4,372.3L263.0,369.4L263.6,366.5L264.3,363.5L265.0,360.6L265.6,357.7L266.3,354.8L267.0,351.9L267.7,348.9L268.4,346.0L269.2,343.1L269.9,340.2L270.6,337.3L271.4,334.4L272.2,331.5L272.9,328.6L273.7,325.7L274.5,322.8L275.3,319.9L276.2,317.0L277.0,314.1L277.9,311.3L278.7,308.4L279.6,305.5L280.5,302.7L281.4,299.8L282.3,296.9L283.2,294.1L284.2,291.2L285.1,288.4L286.1,285.6L287.1,282.7L288.1,279.9L289.1,277.1L290.2,274.3L291.2,271.4L292.3,268.6L293.4,265.8L294.5,263.0L295.6,260.3L296.7,257.5L297.9,254.7L299.1,251.9L300.2,249.2L301.4,246.4L302.7,243.7L303.9,241.0L305.2,238.2L306.4,235.5L307.7,232.8L309.0,230.1L310.4,227.4L311.7,224.8L313.1,222.1L314.5,219.5L316.0,216.8L317.5,214.2L319.0,211.6L320.5,209.0L322.1,206.5L323.7,203.9L325.3,201.4L327.0,198.9L328.7,196.5L330.4,194.0L332.2,191.6L334.1,189.2L335.9,186.9L337.8,184.6L339.8,182.3L341.8,180.1L343.9,177.9L346.0,175.7L348.1,173.6L350.3,171.6L352.5,169.6L354.8,167.6L357.1,165.7L359.5,163.9L361.9,162.1L364.4,160.4L366.9,158.8L369.4,157.2L372.1,155.7L374.7,154.3L377.4,153.0L380.2,151.8L383.0,150.7L385.8,149.7L388.7,148.9L391.6,148.1L394.5,147.4L397.5,146.9L400.4,146.5L403.4,146.2L406.4,146.0L409.4,145.9L412.4,145.9L415.4,146.0L418.4,146.2L421.4,146.5L424.4,146.9L427.3,147.4L430.3,148.0L433.2,148.7L436.1,149.4L439.0,150.3L441.8,151.3L444.6,152.3L447.4,153.4L450.1,154.6L452.8,155.9L455.5,157.3L458.1,158.8L460.7,160.3L463.2,162.0L465.7,163.7L468.1,165.5L470.4,167.4L472.7,169.3L474.9,171.3L477.1,173.4L479.2,175.5L481.3,177.7L483.3,179.9L485.3,182.1L487.3,184.4L489.3,186.7L491.2,189.0L493.0,191.3L494.9,193.7L496.7,196.1L498.4,198.5L500.2,201.0L501.9,203.4L503.6,205.9L505.2,208.4L506.9,211.0L508.4,213.5L510.0,216.1L511.5,218.6L513.1,221.2L514.5,223.8L516.0,226.5L517.4,229.1L518.8,231.7L520.2,234.4L521.6,237.1L522.9,239.8L524.3,242.5L525.6,245.2L526.8,247.9L528.1,250.6L529.3,253.3L530.6,256.1L531.8,258.8L533.0,261.6L534.2,264.3L535.3,267.1L536.5,269.9L537.6,272.6L538.7,275.4L539.8,278.2L540.9,281.0L542.0,283.8L543.1,286.6L544.2,289.4L545.2,292.2L546.3,295.0L547.3,297.8L548.3,300.7L549.4,303.5L550.4,306.3L551.3,309.2L552.3,312.0L553.3,314.8L554.3,317.7L555.2,320.5L556.2,323.4L557.1,326.2L558.0,329.1L558.9,331.9L559.8,334.8L560.7,337.7L561.6,340.5L562.5,343.4L563.3,346.3L564.2,349.2L565.0,352.0L565.8,354.9L566.7,357.8L567.5,360.7L568.3,363.6L569.1,366.5L569.9,369.4L570.7,372.3L571.4,375.2L572.2,378.1L573.0,381.0L573.7,383.9L574.5,386.8L575.2,389.7L575.9,392.6L576.6,395.5L577.4,398.4L578.1,401.4L578.8,404.3L579.4,407.2L580.1,410.1L580.8,413.0L581.5,416.0L582.1,418.9L582.8,421.8L583.4,424.8L584.1,427.7L584.7,430.6L585.3,433.6L586.0,436.5L586.6,439.4L587.2,442.4L587.8,445.3L588.4,448.2L589.0,451.2L589.6,454.1L590.2,457.1L590.7,460.0L591.3,463.0L591.9,465.9L592.5,468.9L593.0,471.8L593.6,474.8L594.1,477.7L594.7,480.7L595.2,483.6L595.7,486.6L596.3,489.5L596.8,492.5L597.3,495.4L597.9,498.4L598.4,501.3L598.9,504.3L599.4,507.3L599.9,510.2L600.4,513.2L600.9,516.1L601.4,519.1L601.9,522.0L602.4,525.0L602.9,528.0L603.4,530.9L603.8,533.9L604.3,536.9L604.8,539.8L605.3,542.8L605.7,545.7L606.2,548.7L606.7,551.7L607.1,554.6L607.6,557.6L608.1,560.6L608.5,563.5L609.0,566.5L609.4,569.5L609.9,572.4L610.3,575.4L610.8,578.4L611.2,581.3L611.6,584.3L612.1,587.3L612.5,590.2L613.0,593.2L613.4,596.2L613.8,599.2L614.3,602.1L614.7,605.1L615.1,608.1L615.6,611.0L616.0,614.0L616.4,617.0L616.8,619.9L617.3,622.9L617.7,625.9L618.1,628.9L618.6,631.8L619.0,634.8L619.5,637.8L619.9,640.7L620.4,643.7L620.8,646.7L621.3,649.6L621.8,652.6L622.3,655.5L622.8,658.5L623.3,661.5L623.8,664.4L624.4,667.4L624.9,670.3L625.5,673.3L626.1,676.2L626.7,679.1L627.4,682.1L628.0,685.0L628.7,687.9L629.4,690.8L630.1,693.8L630.8,696.7L631.6,699.6L632.4,702.5L633.2,705.4L634.0,708.2L634.9,711.1L635.7,714.0L636.6,716.9L637.4,719.7L638.3,722.6L639.2,725.5L640.1,728.3L641.0,731.2L641.9,734.1L642.8,736.9L643.7,739.8L644.6,742.7L645.5,745.5L646.3,748.4L647.2,751.3L648.0,754.2L648.9,757.0L649.7,759.9L650.5,762.8L651.3,765.7L652.1,768.6L652.9,771.5L653.7,774.4L654.5,777.3L655.3,780.2L656.0,783.1L656.8,786.0L657.5,788.9L658.3,791.8L659.0,794.7L659.8,797.6L660.5,800.5L661.2,803.4L662.0,806.4L662.7,809.3L663.4,812.2L664.2,815.1L664.9,818.0L665.6,820.9L666.4,823.8L667.1,826.7L667.8,829.6L668.6,832.5L669.3,835.5L670.1,838.4L670.8,841.3L671.6,844.2L672.4,847.1L673.2,850.0L673.9,852.9L674.7,855.7L675.5,858.6L676.4,861.5L677.2,864.4L678.0,867.3L678.8,870.2L679.7,873.1L680.6,875.9L681.5,878.8L682.4,881.7L683.3,884.5L684.3,887.4L685.2,890.2L686.2,893.0L687.3,895.8L688.3,898.6L689.4,901.4L690.6,904.2L691.7,907.0L692.9,909.7L694.2,912.5L695.4,915.2L696.8,917.9L698.2,920.5L699.6,923.2L701.1,925.8L702.6,928.3L704.2,930.9L705.9,933.4L707.6,935.8L709.4,938.2L711.3,940.6L713.3,942.9L715.3,945.1L717.4,947.2L719.6,949.3L721.8,951.3L724.2,953.1L726.6,954.9L729.1,956.6L731.6,958.2L734.3,959.6L737.0,960.9L739.7,962.1L742.5,963.2L745.4,964.1L748.3,964.9L751.2,965.6L754.1,966.1L757.1,966.6L760.1,966.9L763.1,967.1L766.1,967.2L769.1,967.2L772.1,967.0L775.1,966.8L778.0,966.4L781.0,965.9L783.9,965.3L786.8,964.6L789.7,963.7L792.6,962.8L795.4,961.7L798.1,960.4L800.8,959.1L803.4,957.6L806.0,956.1L808.5,954.4L810.9,952.7L813.3,950.9L815.7,949.0L818.0,947.1L820.3,945.2L822.5,943.2L824.8,941.2L827.0,939.1L829.1,937.0L831.2,934.9L833.3,932.8L835.4,930.6L837.4,928.4L839.4,926.1L841.4,923.9L843.3,921.6L845.2,919.3L847.1,916.9L848.9,914.6L850.8,912.2L852.5,909.8L854.3,907.3L856.0,904.9L857.7,902.4L859.4,899.9L861.1,897.4L862.7,894.9L864.3,892.4L865.9,889.8L867.5,887.3L869.0,884.7L870.6,882.1L872.1,879.5L873.6,876.9L875.0,874.3L876.5,871.7L878.0,869.1L879.4,866.4L880.8,863.8L882.2,861.1L883.6,858.5L885.0,855.8L886.4,853.1L887.8,850.5L889.1,847.8L890.5,845.1L891.8,842.4L893.2,839.8L894.5,837.1L895.8,834.4L897.2,831.7L898.5,829.0L899.8,826.3L901.1,823.6L902.4,820.9L903.6,818.2L904.9,815.4L906.2,812.7L907.4,810.0L908.7,807.3L909.9,804.5L911.2,801.8L912.4,799.0L913.6,796.3L914.8,793.6L916.0,790.8L917.2,788.1L918.4,785.3L919.6,782.5L920.7,779.8L921.9,777.0L923.0,774.2L924.2,771.5L925.3,768.7L926.5,765.9L927.6,763.1L928.7,760.3L929.8,757.5L930.9,754.8L932.0,752.0L933.1,749.2L934.1,746.4L935.2,743.5L936.3,740.7L937.3,737.9L938.3,735.1L939.4,732.3L940.4,729.5L941.4,726.6L942.4,723.8L943.4,721.0L944.4,718.2L945.4,715.3L946.4,712.5L947.3,709.6L948.3,706.8L949.2,703.9L950.2,701.1L951.1,698.2L952.0,695.4L952.9,692.5L953.8,689.7L954.7,686.8L955.6,683.9L956.5,681.1L957.4,678.2L958.2,675.3L959.1,672.4L959.9,669.6L960.8,666.7L961.6,663.8L962.4,660.9L963.2,658.0L964.0,655.1L964.8,652.2L965.6,649.3L966.4,646.4L967.1,643.5L967.9,640.6L968.6,637.7L969.4,634.8L970.1,631.9L970.8,629.0L971.5,626.1L972.3,623.2L972.9,620.2L973.6,617.3L974.3,614.4L975.0,611.5L975.6,608.5L976.3,605.6L976.9,602.7L977.6,599.7L978.2,596.8L978.8,593.9L979.4,590.9L980.0,588.0L980.6,585.0L981.1,582.1L981.7,579.1L982.3,576.2L982.8,573.3L983.4,570.3L983.9,567.3L984.4,564.4L985.0,561.4L985.5,558.5L986.0,555.5L986.5,552.6L987.0,549.6L987.5,546.6L988.0,543.7L988.4,540.7L988.9,537.8L989.4,534.8L989.9,531.8L990.3,528.9L990.8,525.9L991.2,522.9L991.7,520.0L992.1,517.0L992.6,514.0L993.0,511.1L993.5,508.1L993.9,505.1L994.3,502.2L994.8,499.2L995.2,496.2L995.6,493.2L996.1,490.3L996.5,487.3L996.9,484.3L997.4,481.4L997.8,478.4L998.2,475.4L998.7,472.5L999.1,469.5L999.5,466.5L1000.0,463.5L1000.4,460.6L1000.9,457.6L1001.3,454.6L1001.7,451.7L1002.2,448.7L1002.6,445.7L1003.1,442.8L1003.6,439.8L1004.0,436.8L1004.5,433.9L1005.0,430.9L1005.4,428.0L1005.9,425.0L1006.4,422.0L1006.9,419.1L1007.4,416.1L1007.9,413.2L1008.4,410.2L1008.9,407.2L1009.5,404.3L1010.0,401.3L1010.5,398.4L1011.1,395.4L1011.6,392.5L1012.2,389.5L1012.8,386.6L1013.3,383.6L1013.9,380.7L1014.5,377.8L1015.1,374.8L1015.7,371.9L1016.4,368.9L1017.0,366.0L1017.6,363.1L1018.3,360.2L1019.0,357.2L1019.6,354.3L1020.3,351.4L1021.0,348.5L1021.8,345.5L1022.5,342.6L1023.2,339.7L1024.0,336.8L1024.7,333.9L1025.5,331.0L1026.3,328.1L1027.1,325.2L1027.9,322.3L1028.7,319.5L1029.6,316.6L1030.4,313.7L1031.3,310.8L1032.2,308.0L1033.1,305.1L1034.0,302.2L1035.0,299.4L1035.9,296.5L1036.9,293.7L1037.8,290.9L1038.8,288.0L1039.8,285.2L1040.9,282.4L1041.9,279.6L1043.0,276.8L1044.0,274.0L1045.1,271.2L1046.2,268.4L1047.4,265.6L1048.5,262.8L1049.7,260.0L1050.8,257.3L1052.0,254.5L1053.2,251.8L1054.5,249.0L1055.7,246.3L1057.0,243.6L1058.3,240.9L1059.6,238.2L1060.9,235.5L1062.2,232.8L1063.6,230.1L1065.0,227.5L1066.4,224.8L1067.8,222.1L1069.2,219.5L1070.7,216.9L1072.1,214.3L1073.6,211.7L1075.1,209.1L1076.7,206.5L1078.2,203.9L1079.8,201.4L1081.4,198.8L1083.0,196.3L1084.7,193.8L1086.4,191.4L1088.2,188.9L1090.0,186.5L1091.8,184.2L1093.7,181.8L1095.6,179.5L1097.6,177.3L1099.7,175.1L1101.7,172.9L1103.9,170.8L1106.1,168.8L1108.4,166.8L1110.7,164.9L1113.1,163.1L1115.5,161.3L1118.0,159.7L1120.5,158.1L1123.2,156.6L1125.8,155.2L1128.5,153.9L1131.2,152.7L1134.0,151.5L1136.8,150.5L1139.7,149.5L1142.6,148.7L1145.5,147.9L1148.4,147.2L1151.3,146.6L1154.3,146.1L1157.2,145.7L1160.2,145.4L1163.2,145.2L1166.2,145.1L1169.2,145.2L1172.2,145.3L1175.2,145.6L1178.2,146.0L1181.1,146.6L1184.1,147.2L1187.0,148.0L1189.8,148.9L1192.7,149.8L1195.5,150.9L1198.2,152.1L1200.9,153.4L1203.6,154.8L1206.2,156.3L1208.8,157.9L1211.3,159.5L1213.7,161.2L1216.2,163.0L1218.5,164.8L1220.9,166.7L1223.2,168.6L1225.4,170.6L1227.6,172.7L1229.8,174.8L1231.9,176.9L1233.9,179.1L1236.0,181.3L1238.0,183.5L1239.9,185.8L1241.9,188.1L1243.8,190.4L1245.7,192.7L1247.5,195.1L1249.3,197.5L1251.1,199.9L1252.8,202.4L1254.6,204.8L1256.3,207.3L1257.9,209.8L1259.6,212.3L1261.2,214.8L1262.8,217.3L1264.4,219.9L1266.0,222.4L1267.5,225.0L1269.0,227.6L1270.5,230.2L1272.0,232.8L1273.5,235.5L1274.9,238.1L1276.3,240.7L1277.7,243.4L1279.0,246.1L1280.4,248.8L1281.7,251.5L1283.0,254.2L1284.3,256.9L1285.5,259.6L1286.8,262.3L1288.0,265.1L1289.2,267.8L1290.4,270.6L1291.6,273.3L1292.7,276.1L1293.8,278.9L1295.0,281.7L1296.1,284.5L1297.2,287.3L1298.3,290.1L1299.3,292.9L1300.4,295.7L1301.4,298.5L1302.4,301.3L1303.5,304.1L1304.5,307.0L1305.5,309.8L1306.4,312.6L1307.4,315.5L1308.4,318.3L1309.3,321.2L1310.3,324.0L1311.2,326.9L1312.1,329.7L1313.1,332.6L1314.0,335.4L1314.9,338.3L1315.8,341.2L1316.6,344.0L1317.5,346.9L1318.4,349.8L1319.2,352.6L1320.1,355.5L1320.9,358.4L1321.7,361.3L1322.6,364.2L1323.4,367.1L1324.2,370.0L1325.0,372.9L1325.7,375.8L1326.5,378.7L1327.3,381.6L1328.0,384.5L1328.8,387.4L1329.5,390.3L1330.2,393.2L1331.0,396.1L1331.7,399.0L1332.4,401.9L1333.1,404.9L1333.7,407.8L1334.4,410.7L1335.1,413.6L1335.7,416.6L1336.4,419.5L1337.0,422.4L1337.7,425.4L1338.3,428.3L1338.9,431.2L1339.5,434.2L1340.1,437.1L1340.7,440.1L1341.3,443.0L1341.8,445.9L1342.4,448.9L1343.0,451.8L1343.5,454.8L1344.0,457.7L1344.6,460.7L1345.1,463.7L1345.6,466.6L1346.1,469.6L1346.6,472.5L1347.1,475.5L1347.6,478.4L1348.1,481.4L1348.6,484.4L1349.1,487.3L1349.5,490.3L1350.0,493.3L1350.5,496.2L1350.9,499.2L1351.4,502.2L1351.9,505.1L1352.3,508.1L1352.8,511.1L1353.2,514.0L1353.7,517.0L1354.1,520.0L1354.5,522.9L1355.0,525.9L1355.4,528.9L1355.9,531.8L1356.3,534.8L1356.7,537.8L1357.2,540.7L1357.6,543.7L1358.1,546.7L1358.5,549.6L1359.0,552.6L1359.4,555.6L1359.9,558.5L1360.3,561.5L1360.8,564.5L1361.2,567.4L1361.7,570.4L1362.2,573.4L1362.6,576.3L1363.1,579.3L1363.6,582.3L1364.1,585.2L1364.5,588.2L1365.0,591.1L1365.5,594.1L1366.0,597.1L1366.5,600.0L1367.1,603.0L1367.6,605.9L1368.1,608.9L1368.6,611.8L1369.2,614.8L1369.7,617.7L1370.3,620.7L1370.8,623.6L1371.4,626.6L1371.9,629.5L1372.5,632.5L1373.1,635.4L1373.7,638.4L1374.3,641.3L1374.8,644.3L1375.4,647.2L1376.0,650.1L1376.6,653.1L1377.3,656.0L1377.9,659.0L1378.5,661.9L1379.1,664.8L1379.7,667.8L1380.4,670.7L1381.0,673.6L1381.7,676.6L1382.3,679.5L1383.0,682.4L1383.6,685.4L1384.3,688.3L1384.9,691.2L1385.6,694.1L1386.3,697.1L1387.0,700.0L1387.6,702.9L1388.3,705.8L1389.0,708.7L1389.7,711.7L1390.4,714.6L1391.1,717.5L1391.8,720.4L1392.5,723.3L1393.2,726.3L1394.0,729.2L1394.7,732.1L1395.4,735.0L1396.1,737.9L1396.9,740.8L1397.6,743.7L1398.3,746.6L1399.1,749.5L1399.8,752.4L1400.6,755.4L1401.3,758.3L1402.1,761.2L1402.8,764.1L1403.6,767.0L1404.4,769.9L1405.1,772.8L1405.9,775.7L1406.7,778.6L1407.5,781.5L1408.2,784.4L1409.0,787.3L1409.8,790.2L1410.6,793.1L1411.4,796.0L1412.2,798.8L1413.0,801.7L1413.8,804.6L1414.6,807.5L1415.4,810.4L1416.2,813.3L1417.0,816.2L1417.8,819.1L1418.6,822.0L1419.4,824.9L1420.2,827.8L1421.1,830.6L1421.9,833.5L1422.7,836.4L1423.5,839.3L1424.4,842.2L1425.2,845.1L1426.0,848.0L1426.9,850.8L1427.7,853.7L1428.5,856.6L1429.4,859.5L1430.2,862.4L1431.1,865.2L1432.0,868.1L1432.9,871.0L1433.8,873.8L1434.7,876.7L1435.6,879.5L1436.6,882.4L1437.6,885.2L1438.6,888.0L1439.6,890.9L1440.7,893.7L1441.8,896.5L1442.9,899.2L1444.1,902.0L1445.2,904.8L1446.5,907.5L1447.8,910.2L1449.1,912.9L1450.4,915.6L1451.8,918.2L1453.3,920.9L1454.8,923.5L1456.3,926.0L1457.9,928.6L1459.6,931.1L1461.3,933.6L1463.0,936.0L1464.8,938.4L1466.7,940.8L1468.6,943.1L1470.6,945.3L1472.6,947.5L1474.7,949.7L1476.8,951.8L1479.0,953.8L1481.3,955.8L1483.7,957.6L1486.1,959.4L1488.6,961.1L1491.2,962.6L1493.8,964.0L1496.5,965.3L1499.3,966.4L1502.2,967.4L1505.0,968.2L1508.0,968.8L1511.0,969.2L1513.9,969.5L1516.9,969.6L1519.9,969.6L1522.9,969.3L1525.9,968.9L1528.9,968.4L1531.8,967.7L1534.6,966.8L1537.5,965.8L1540.3,964.7L1543.0,963.5L1545.7,962.2L1548.3,960.7L1550.9,959.2L1553.5,957.7L1556.0,956.0L1558.5,954.3L1560.9,952.6L1563.3,950.8L1565.7,949.0L1568.1,947.2L1570.4,945.3L1572.7,943.4L1575.0,941.4L1577.3,939.4L1579.5,937.4L1581.7,935.4L1583.9,933.3L1586.0,931.2L1588.1,929.0L1590.2,926.9L1592.2,924.7L1594.3,922.5L1596.3,920.2L1598.2,918.0L1600.2,915.7L1602.1,913.4L1604.0,911.0L1605.8,908.7L1607.6,906.3L1609.4,903.9L1611.2,901.5L1613.0,899.0L1614.7,896.6L1616.4,894.1L1618.1,891.6L1619.7,889.1L1621.4,886.6L1623.0,884.1L1624.5,881.5L1626.1,878.9L1627.7,876.4L1629.2,873.8L1630.7,871.2L1632.2,868.6L1633.6,865.9L1635.1,863.3L1636.5,860.7L1637.9,858.0L1639.3,855.4L1640.6,852.7L1642.0,850.0L1643.3,847.3L1644.7,844.6L1646.0,841.9L1647.3,839.2L1648.5,836.5L1649.8,833.8L1651.1,831.1L1652.3,828.3L1653.6,825.6L1654.8,822.9L1656.0,820.1L1657.2,817.4L1658.4,814.6L1659.6,811.9L1660.8,809.1L1661.9,806.3L1663.1,803.6L1664.2,800.8L1665.4,798.0L1666.5,795.2L1667.7,792.5L1668.8,789.7L1669.9,786.9L1671.1,784.1L1672.2,781.4L1673.3,778.6L1674.4,775.8L1675.6,773.0L1676.7,770.2L1677.8,767.4L1678.9,764.6L1680.0,761.9L1681.1,759.1L1682.3,756.3L1683.4,753.5L1684.5,750.7L1685.6,747.9L1686.7,745.1L1687.8,742.3L1688.9,739.5L1690.0,736.7L1691.1,733.9L1692.1,731.1L1693.2,728.3L1694.3,725.5L1695.3,722.7L1696.4,719.9L1697.5,717.1L1698.5,714.3L1699.5,711.5L1700.6,708.7L1701.6,705.9L1702.6,703.0L1703.6,700.2L1704.6,697.4L1705.6,694.5L1706.6,691.7L1707.6,688.9L1708.5,686.0L1709.5,683.2L1710.4,680.3L1711.3,677.5L1712.3,674.6L1713.2,671.7L1714.1,668.9L1714.9,666.0L1715.8,663.1L1716.7,660.3L1717.5,657.4L1718.3,654.5L1719.2,651.6L1720.0,648.7L1720.8,645.8L1721.5,642.9L1722.3,640.0L1723.0,637.1L1723.8,634.2L1724.5,631.3L1725.2,628.4L1725.9,625.5L1726.6,622.5L1727.2,619.6" stroke="#cb9900"/>
</g>
<g id="legend">
<rect x="648" y="97" width="262" height="361" fill="#fff"/>
<path d="M654,130H748" stroke="#515151"/>
<path d="M654,189H748" stroke="#ef4040"/>
<path d="M654,248H748" stroke="#1b70e0"/>
<path d="M654,307H748" stroke="#38ae6c"/>
<path d="M654,366H748" stroke="#ae77dd"/>
<path d="M654,425H748" stroke="#cb9900"/>
<text transform="translate(771.5,144.8) scale(1.1,1)" font-style="italic">k</text>
<text transform="translate(819,144.8) scale(1.11,1)" text-anchor="middle">=</text>
<text x="844.4" y="144.8">0.4</text>
<text transform="translate(771.5,203.8) scale(1.1,1)" font-style="italic">k</text>
<text transform="translate(819,203.8) scale(1.11,1)" text-anchor="middle">=</text>
<text x="844.4" y="203.8">0.5</text>
<text transform="translate(771.5,262.8) scale(1.1,1)" font-style="italic">k</text>
<text transform="translate(819,262.8) scale(1.11,1)" text-anchor="middle">=</text>
<text x="844.4" y="262.8">0.6</text>
<text transform="translate(771.5,321.8) scale(1.1,1)" font-style="italic">k</text>
<text transform="translate(819,321.8) scale(1.11,1)" text-anchor="middle">=</text>
<text x="844.4" y="321.8">0.7</text>
<text transform="translate(771.5,380.8) scale(1.1,1)" font-style="italic">k</text>
<text transform="translate(819,380.8) scale(1.11,1)" text-anchor="middle">=</text>
<text x="844.4" y="380.8">0.8</text>
<text transform="translate(771.5,439.8) scale(1.1,1)" font-style="italic">k</text>
<text transform="translate(819,439.8) scale(1.11,1)" text-anchor="middle">=</text>
<text x="844.4" y="439.8">0.9</text>
<rect x="648" y="97" width="262" height="361" fill="none" stroke="#000" stroke-width="4"/>
</g>
<g id="labels">
<text transform="translate(193,66.0) scale(1,1.048)" text-anchor="end">1.5</text>
<text transform="translate(193,247.6) scale(1,1.048)" text-anchor="end">1.0</text>
<text transform="translate(193,429.2) scale(1,1.048)" text-anchor="end">0.5</text>
<text transform="translate(193,610.8) scale(1,1.048)" text-anchor="end">0.0</text>
<text transform="translate(193,792.3) scale(1,1.048)" text-anchor="end">0.5</text>
<text transform="translate(95.9,793.3) scale(1.14,1.048)" text-anchor="middle">−</text>
<text transform="translate(193,973.9) scale(1,1.048)" text-anchor="end">1.0</text>
<text transform="translate(95.9,974.9) scale(1.14,1.048)" text-anchor="middle">−</text>
<text transform="translate(193,1155.5) scale(1,1.048)" text-anchor="end">1.5</text>
<text transform="translate(95.9,1156.5) scale(1.14,1.048)" text-anchor="middle">−</text>
<text transform="translate(220.5,1210.8) scale(1,1.048)" text-anchor="middle">0</text>
<text transform="translate(371.2,1210.8) scale(1,1.048)" text-anchor="middle">1</text>
<text transform="translate(521.9,1210.8) scale(1,1.048)" text-anchor="middle">2</text>
<text transform="translate(672.6,1210.8) scale(1,1.048)" text-anchor="middle">3</text>
<text transform="translate(823.3,1210.8) scale(1,1.048)" text-anchor="middle">4</text>
<text transform="translate(974.0,1210.8) scale(1,1.048)" text-anchor="middle">5</text>
<text transform="translate(1124.7,1210.8) scale(1,1.048)" text-anchor="middle">6</text>
<text transform="translate(1275.4,1210.8) scale(1,1.048)" text-anchor="middle">7</text>
<text transform="translate(1426.1,1210.8) scale(1,1.048)" text-anchor="middle">8</text>
<text transform="translate(1576.8,1210.8) scale(1,1.048)" text-anchor="middle">9</text>
<text transform="translate(1727.5,1210.8) scale(1,1.048)" text-anchor="middle">10</text>
<text transform="translate(973,1286.1) scale(0.987,1)" text-anchor="middle">Time (s)</text>
<text transform="translate(59.9,592.1) rotate(-90) scale(0.982,1.024)" text-anchor="middle">Error (mm)</text>
</g>
</svg>
</body></html>
